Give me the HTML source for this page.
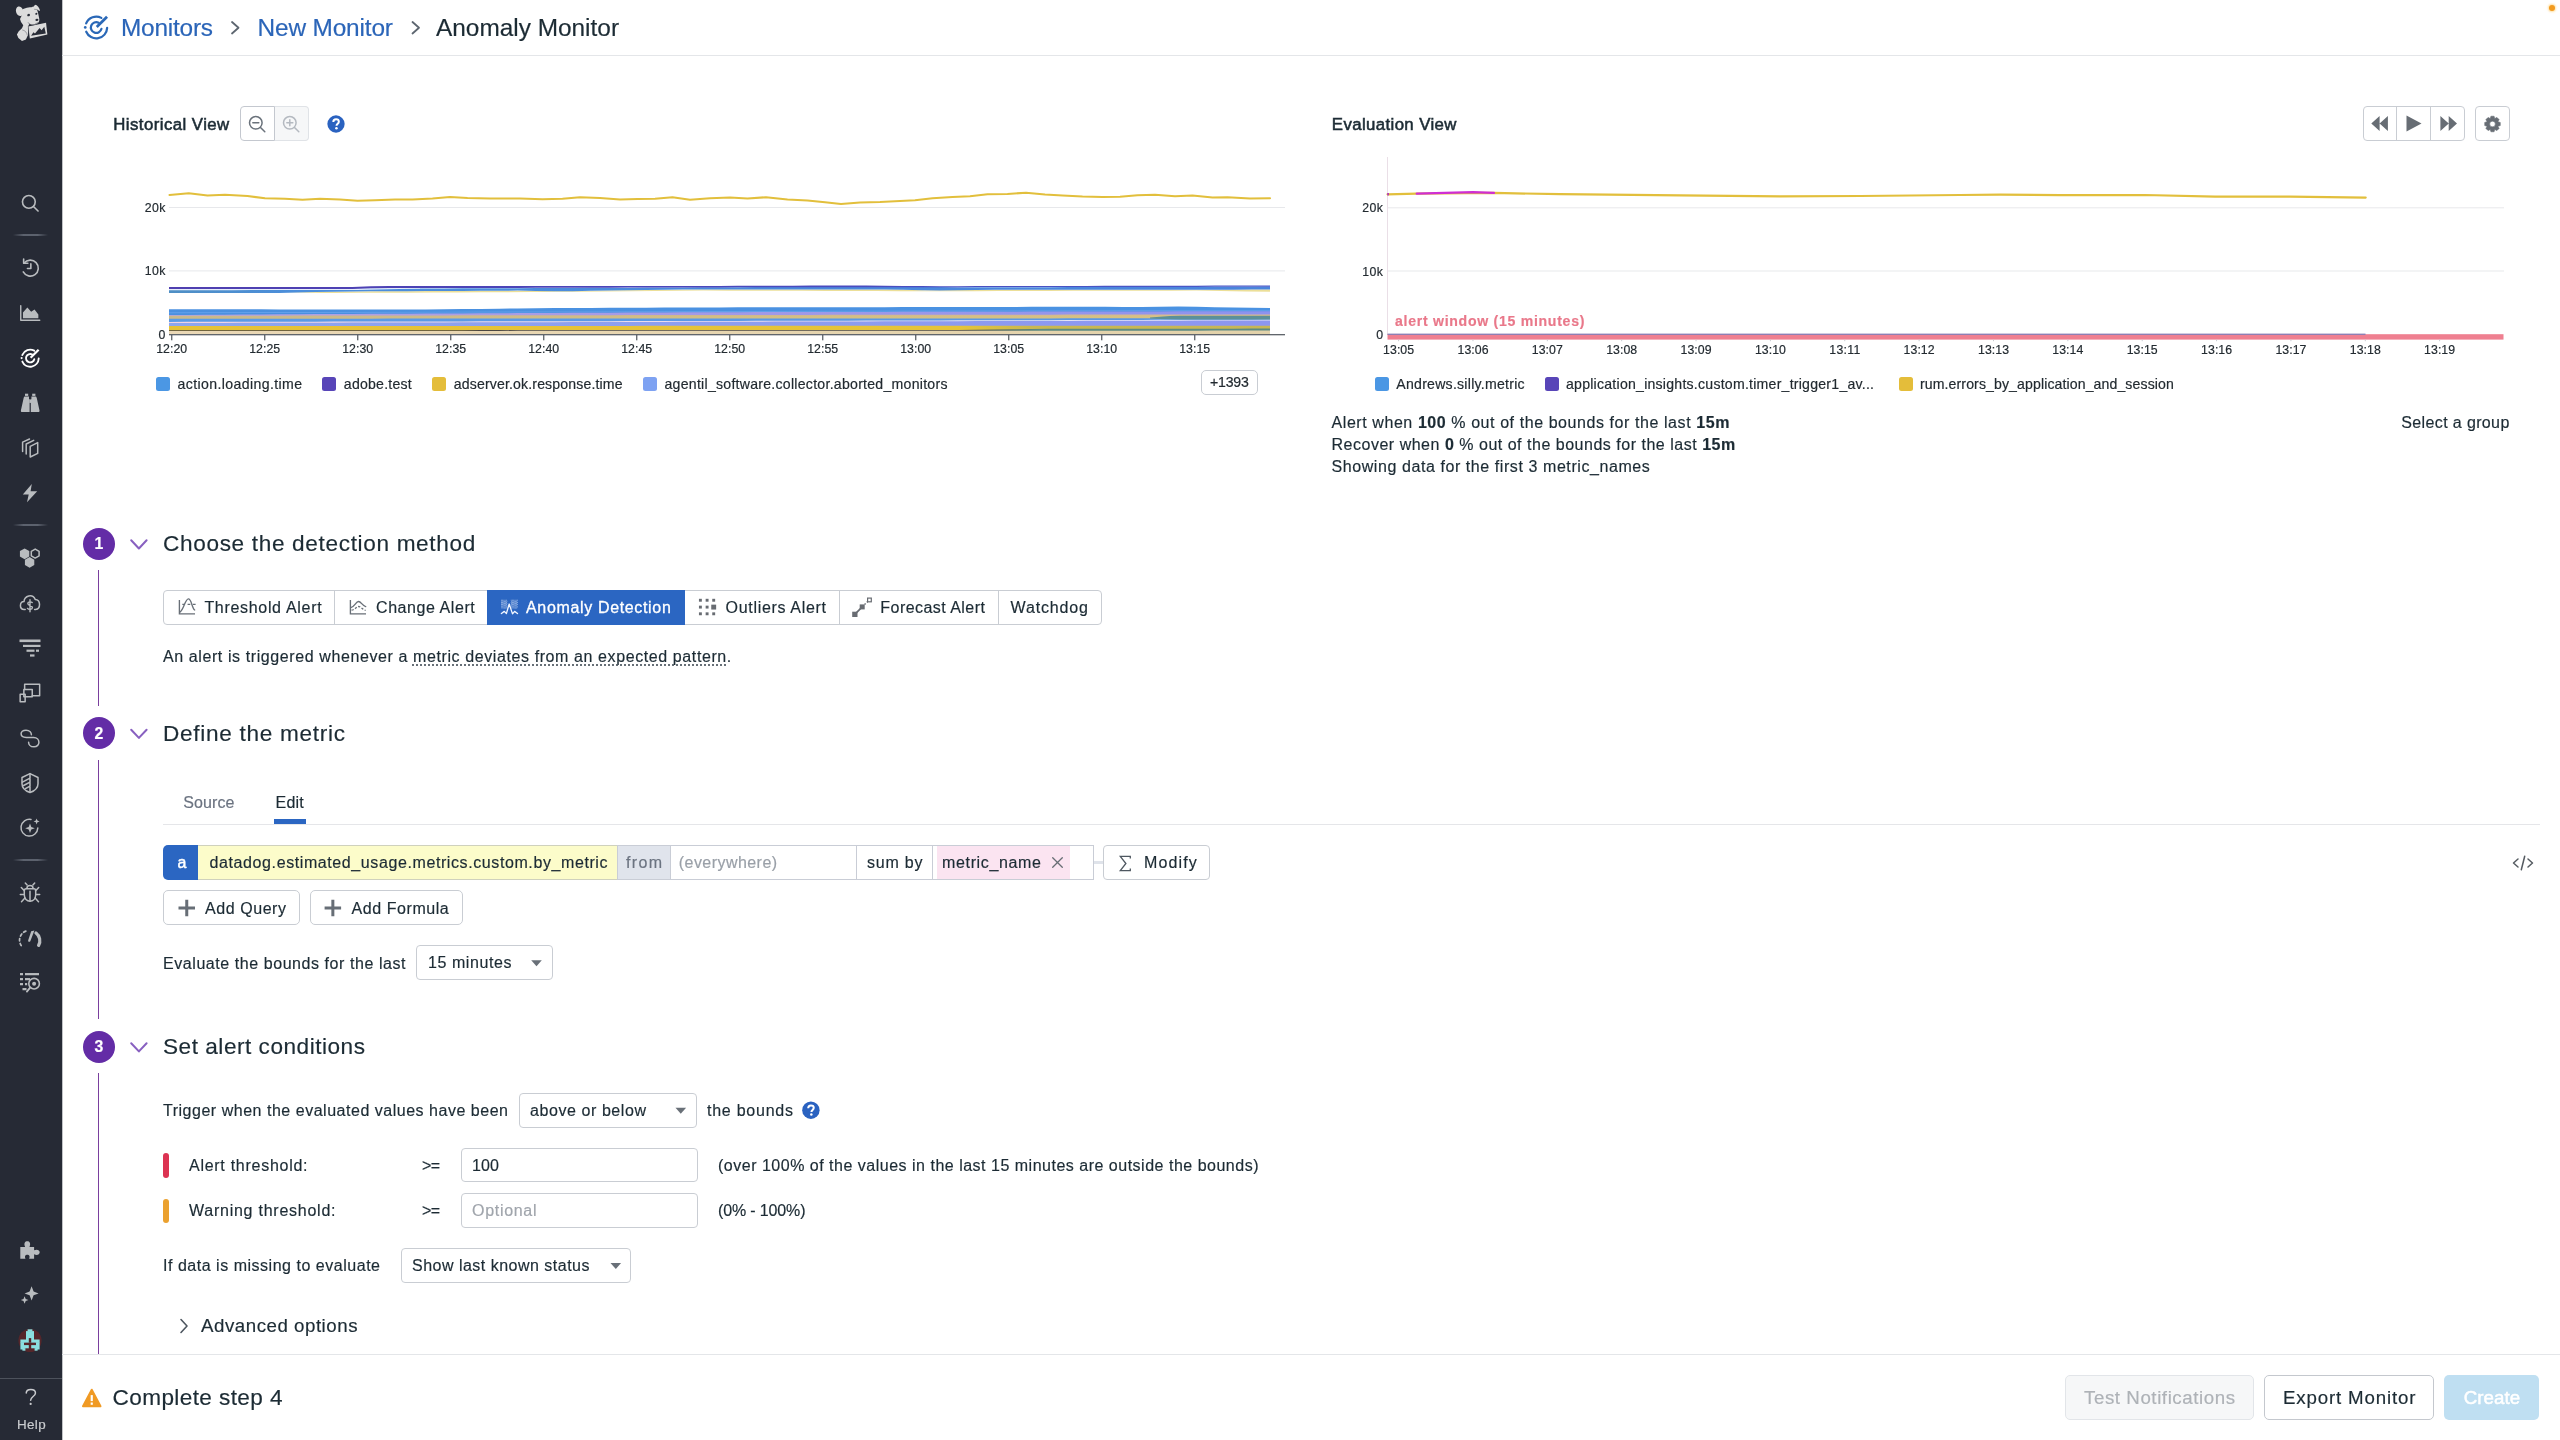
<!DOCTYPE html>
<html lang="en"><head><meta charset="utf-8"><title>Anomaly Monitor</title>
<style>

html,body{margin:0;padding:0;}
body{width:2560px;height:1440px;overflow:hidden;background:#fff;position:relative;font-family:"Liberation Sans",sans-serif;color:#1c2b34;}
#root{position:absolute;left:0;top:0;width:2560px;height:1440px;will-change:transform;}
.t{position:absolute;white-space:pre;line-height:1;-webkit-text-stroke:0.18px currentColor;}
.b{position:absolute;box-sizing:border-box;}
svg{position:absolute;left:0;top:0;overflow:visible;}

</style></head>
<body>
<div id="root">
<div class="b" style="left:0px;top:0px;width:62px;height:1440px;background:#262a35;"></div>
<div class="b" style="left:62px;top:0px;width:1px;height:1440px;background:#8e9197;opacity:.55;"></div>
<svg style="left:15px;top:4px" width="33" height="38" viewBox="300 80 660 760"><g fill="#dcdcdc"><ellipse cx="392" cy="226" rx="72" ry="98" transform="rotate(-16 392 226)"/><path d="M450 185 C520 140 620 152 676 128 L700 95 C745 98 792 160 802 218 L762 206 L738 186 C762 250 776 320 786 382 C792 432 770 456 746 470 C700 506 640 502 586 478 L566 522 L562 700 L548 724 L518 792 L440 818 L368 760 L338 690 L375 625 L440 565 L465 505 L420 440 L400 380 L430 320 Z"/><path d="M563 528 L921 453 L947 691 L597 768 Z"/></g><g fill="#282c37"><ellipse cx="572" cy="302" rx="29" ry="23" transform="rotate(-25 572 302)"/><ellipse cx="727" cy="276" rx="22" ry="19" transform="rotate(-25 727 276)"/><ellipse cx="738" cy="397" rx="31" ry="22" transform="rotate(-10 738 397)"/><path d="M622 716 L668 645 L700 668 L792 562 L832 605 L886 535 L916 672 Z"/></g><g fill="none" stroke="#282c37" stroke-linecap="round"><path d="M566 455 C590 500 650 506 690 490 C716 480 736 470 746 452" stroke-width="10"/><path d="M452 600 C500 608 536 648 546 700" stroke-width="7"/><path d="M567 532 L574 700" stroke-width="9"/><path d="M690 186 L736 192" stroke-width="7"/><path d="M600 552 L900 488 L920 672 L616 738 Z" stroke-width="6" stroke-opacity=".0"/></g></svg>
<svg style="left:21px;top:194px" width="19" height="19" viewBox="0 0 19 19"><g transform="translate(0.450 0.450) scale(1.00000 1.00000) translate(0.000 0.000)"><g fill="none" stroke="#b9bcbf" stroke-width="1.6" stroke-linecap="round" stroke-linejoin="round"><circle cx="7.4" cy="7.4" r="6.4"/><path d="M12 12 L16.6 16.6"/></g></g></svg>
<div class="b" style="left:13px;top:233.8px;width:35px;height:2px;background:linear-gradient(90deg,rgba(90,96,108,0),rgba(98,104,116,.9) 30%,rgba(98,104,116,.9) 70%,rgba(90,96,108,0));"></div>
<svg style="left:21px;top:258px" width="20" height="21" viewBox="0 0 20 21"><g transform="translate(0.050 0.300) scale(1.00000 1.00000) translate(0.000 0.000)"><g fill="none" stroke="#b9bcbf" stroke-width="1.6" stroke-linecap="round" stroke-linejoin="round"><path d="M3 4.8 A8 8 0 1 1 2.2 13.6"/><path d="M2.6 0.8 V5 H6.8"/><path d="M9.8 5.6 V10.2 H6.4"/></g></g></svg>
<svg style="left:19px;top:305px" width="23" height="17" viewBox="0 0 23 17"><g transform="translate(0.750 0.000) scale(1.00000 1.00000) translate(0.000 0.000)"><path d="M1 0.6 V15.2 H20" fill="none" stroke="#b9bcbf" stroke-width="1.4" stroke-linecap="round" stroke-linejoin="round"/><path d="M3.2 13.2 V7.6 L7.6 2.6 L11.4 6.8 L14.8 4.4 L18.6 9.6 V13.2 Z" fill="#b9bcbf"/></g></svg>
<svg style="left:19px;top:347px" width="24" height="24" viewBox="0 0 24 24"><g transform="translate(0.280 0.280) scale(0.78000 0.78000) translate(14.000 14.000)"><g fill="none" stroke="#ffffff" stroke-width="2.4" stroke-linecap="round"><path d="M10.89 0.38 A10.9 10.9 0 0 1 -10.03 4.26"/><path d="M-10.11 -4.08 A10.9 10.9 0 0 1 5.12 -9.62"/><path d="M5.24 1.31 A5.4 5.4 0 1 1 2.37 -4.85"/></g><path d="M0.5 -0.5 L10.8 -10.8" stroke="#ffffff" stroke-width="2.9" fill="none" stroke-linecap="butt"/><circle cx="-11" cy="-0.1" r="1.35" fill="#ffffff"/></g></svg>
<svg style="left:20px;top:393px" width="21" height="21" viewBox="0 0 21 21"><g transform="translate(0.700 0.700) scale(1.00000 1.00000) translate(0.000 0.000)"><g fill="#b9bcbf"><rect x="4.3" y="0" width="3.2" height="2.2"/><rect x="11.5" y="0" width="3.2" height="2.2"/><path d="M3.7 2.9 H8.3 V5.6 H8.9 V18.4 H1.2 C0.4 18.4 0 17.7 0.2 16.9 L3 4 Z"/><path d="M15.3 2.9 H10.7 V5.6 H10.1 V18.4 H17.8 C18.6 18.4 19 17.7 18.8 16.9 L16 4 Z"/><rect x="8.6" y="5.8" width="1.8" height="3.4"/></g></g></svg>
<svg style="left:21px;top:438px" width="19" height="21" viewBox="0 0 19 21"><g transform="translate(0.900 0.700) scale(1.00000 1.00000) translate(0.000 0.000)"><g fill="none" stroke="#b9bcbf" stroke-width="1.5" stroke-linecap="round" stroke-linejoin="round" stroke-linejoin="miter"><path d="M8.3 7.6 L15.8 3.9 V14.6 L8.3 18.3 Z"/><path d="M4.3 15.2 V5.3 L11.8 1.6"/><path d="M0.7 12.8 V3.4 L7.6 0.3"/></g></g></svg>
<svg style="left:22px;top:484px" width="17" height="20" viewBox="0 0 17 20"><g transform="translate(0.800 0.100) scale(1.00000 1.00000) translate(0.000 0.000)"><path d="M9 0 L0 10.4 H5.9 L4.2 18.2 L14.4 7.1 H7.8 Z" fill="#b9bcbf"/></g></svg>
<div class="b" style="left:13px;top:524px;width:35px;height:2px;background:linear-gradient(90deg,rgba(90,96,108,0),rgba(98,104,116,.9) 30%,rgba(98,104,116,.9) 70%,rgba(90,96,108,0));"></div>
<svg style="left:19px;top:548px" width="23" height="21" viewBox="0 0 23 21"><g transform="translate(0.000 0.000) scale(1.00000 1.00000) translate(0.000 0.000)"><polygon points="10.28,8.50 5.60,11.20 0.92,8.50 0.92,3.10 5.60,0.40 10.28,3.10" fill="#b9bcbf"/><polygon points="15.28,17.10 10.60,19.80 5.92,17.10 5.92,11.70 10.60,9.00 15.28,11.70" fill="#b9bcbf"/><polygon points="20.10,7.85 16.20,10.10 12.30,7.85 12.30,3.35 16.20,1.10 20.10,3.35" fill="none" stroke="#b9bcbf" stroke-width="1.5" stroke-linecap="round" stroke-linejoin="round"/></g></svg>
<svg style="left:19px;top:593px" width="23" height="21" viewBox="0 0 23 21"><g transform="translate(0.000 0.000) scale(1.00000 1.00000) translate(0.000 0.000)"><g fill="none" stroke="#b9bcbf" stroke-width="1.5" stroke-linecap="round" stroke-linejoin="round"><path d="M6.2 16.6 H5.2 C-0.2 16 0.6 8.8 5 8.6 C5.4 2.6 13.6 0.4 16.2 6.4 C21.8 6.6 22 15.8 16.6 16.6 H15.6"/></g><path d="M13.2 9.6 C12 8.4 8.8 8.6 8.8 10.6 C8.8 13 13.4 12 13.4 14.6 C13.4 16.8 9.8 16.9 8.5 15.4 M11 6.8 V18.8" fill="none" stroke="#b9bcbf" stroke-width="1.4" stroke-linecap="round" stroke-linejoin="round"/></g></svg>
<svg style="left:19px;top:639px" width="23" height="19" viewBox="0 0 23 19"><g transform="translate(0.000 0.000) scale(1.00000 1.00000) translate(0.000 0.000)"><g fill="#b9bcbf"><rect x="0.5" y="0.5" width="21" height="2.6"/><rect x="4" y="5.8" width="17.5" height="2.2"/><rect x="7.5" y="10.6" width="8" height="2.2"/><rect x="17" y="10.6" width="3" height="2.2"/><rect x="11" y="15.4" width="4.5" height="2.2"/></g></g></svg>
<svg style="left:19px;top:683px" width="23" height="21" viewBox="0 0 23 21"><g transform="translate(0.250 0.250) scale(1.00000 1.00000) translate(0.000 0.000)"><g fill="none" stroke="#b9bcbf" stroke-width="1.5" stroke-linecap="round" stroke-linejoin="round"><path d="M5.4 6.2 V0.9 H20.4 V12.4 H13"/><rect x="4.6" y="6.2" width="8.4" height="7.2"/><rect x="0.9" y="11" width="5" height="7.6"/></g></g></svg>
<svg style="left:19px;top:728px" width="23" height="22" viewBox="0 0 23 22"><g transform="translate(0.500 0.750) scale(1.00000 1.00000) translate(0.000 0.000)"><path d="M12 8.2 H6.3 C-0.6 8.2 -0.6 0.9 6 0.9 C10 0.9 11.4 3.6 11.4 5.6 M8 8.2 H13.7 C20.6 8.2 20.6 17.6 14 17.6 C10 17.6 8.6 14.9 8.6 12.9" fill="none" stroke="#b9bcbf" stroke-width="1.5" stroke-linecap="round" stroke-linejoin="round" transform="translate(0.5,0.5)"/></g></svg>
<svg style="left:21px;top:772px" width="19" height="23" viewBox="0 0 19 23"><g transform="translate(0.000 0.700) scale(1.00000 1.00000) translate(0.000 0.000)"><g fill="none" stroke="#b9bcbf" stroke-width="1.5" stroke-linecap="round" stroke-linejoin="round"><path d="M9 0.9 L17 4.8 V11 C17 15.4 13 18.4 9 19.8 C5 18.4 1 15.4 1 11 V4.8 Z"/><path d="M9 1 V19.6 M9 9.4 L2.6 12.8 M9 13.4 L4.4 16 M9 5.4 L1.4 9.4"/></g></g></svg>
<svg style="left:20px;top:818px" width="21" height="21" viewBox="0 0 21 21"><g transform="translate(0.000 0.000) scale(1.00000 1.00000) translate(0.000 0.000)"><path d="M17.8 10 A8.4 8.4 0 1 1 11 1.4" fill="none" stroke="#b9bcbf" stroke-width="1.5" stroke-linecap="round" stroke-linejoin="round"/><path d="M10 5.4 L11.3 9 L14.8 10.2 L11.3 11.4 L10 15 L8.7 11.4 L5.2 10.2 L8.7 9 Z" fill="#b9bcbf"/><path d="M16.6 0.4 L17.4 2.6 L19.6 3.4 L17.4 4.2 L16.6 6.4 L15.8 4.2 L13.6 3.4 L15.8 2.6 Z" fill="#b9bcbf"/></g></svg>
<div class="b" style="left:13px;top:859px;width:35px;height:2px;background:linear-gradient(90deg,rgba(90,96,108,0),rgba(98,104,116,.9) 30%,rgba(98,104,116,.9) 70%,rgba(90,96,108,0));"></div>
<svg style="left:19px;top:882px" width="23" height="22" viewBox="0 0 23 22"><g transform="translate(0.500 0.250) scale(1.00000 1.00000) translate(0.000 0.000)"><g fill="none" stroke="#b9bcbf" stroke-width="1.5" stroke-linecap="round" stroke-linejoin="round"><path d="M6.6 6.4 H14.4 C15.6 6.4 16.2 7.4 16.2 8.6 V12.6 C16.2 16.6 13.6 19 10.5 19 C7.4 19 4.8 16.6 4.8 12.6 V8.6 C4.8 7.4 5.4 6.4 6.6 6.4 Z"/><path d="M7.4 6.2 C7.4 2.4 13.6 2.4 13.6 6.2"/><path d="M10.5 9 V19 M4.8 12.2 H0.8 M16.2 12.2 H20.2 M4.9 8.6 L1.8 5.2 M16.1 8.6 L19.2 5.2 M5.4 15.8 L2 19.4 M15.6 15.8 L19 19.4 M7.6 2.8 L5.8 0.8 M13.4 2.8 L15.2 0.8"/></g></g></svg>
<svg style="left:19px;top:929px" width="23" height="19" viewBox="0 0 23 19"><g transform="translate(0.000 0.000) scale(1.00000 1.00000) translate(0.000 0.000)"><path d="M2.2 16.5 A9.6 9.6 0 0 1 9 1.6" fill="none" stroke="#b9bcbf" stroke-width="1.7" stroke-linecap="round" stroke-linejoin="round" stroke-dasharray="2.4 2.5"/><path d="M17 4 A9.6 9.6 0 0 1 19.6 16.4" fill="none" stroke="#b9bcbf" stroke-width="3.2" stroke-linecap="round" stroke-linejoin="round" stroke-linecap="butt"/><path d="M12.2 2.2 L15.4 1.4 L11.4 12 C10.8 13.6 8.6 12.6 9.2 11.2 Z" fill="#b9bcbf"/></g></svg>
<svg style="left:19px;top:972px" width="23" height="22" viewBox="0 0 23 22"><g transform="translate(0.500 0.250) scale(1.00000 1.00000) translate(0.000 0.000)"><g fill="#b9bcbf"><rect x="0.5" y="0.8" width="3" height="2.2"/><rect x="5.5" y="0.8" width="14" height="2.2"/><rect x="0.5" y="5.8" width="3" height="2.2"/><rect x="5.5" y="5.8" width="5" height="2.2"/><rect x="0.5" y="10.8" width="3" height="2.2"/><rect x="5.5" y="10.8" width="2.2" height="2.2"/><rect x="3" y="15.8" width="4" height="2.2"/></g><circle cx="14.6" cy="11.4" r="5.3" fill="none" stroke="#b9bcbf" stroke-width="1.6" stroke-linecap="round" stroke-linejoin="round"/><circle cx="14.6" cy="11.4" r="2" fill="#b9bcbf"/><path d="M10.6 15.4 L7.4 19.4" fill="none" stroke="#b9bcbf" stroke-width="1.8" stroke-linecap="round" stroke-linejoin="round"/></g></svg>
<svg style="left:19px;top:1240px" width="23" height="21" viewBox="0 0 23 21"><g transform="translate(0.500 0.750) scale(1.00000 1.00000) translate(0.000 0.000)"><path d="M0.8 6.2 H5.6 C4 2.6 5.6 0.6 7.8 0.6 C10 0.6 11.6 2.6 10 6.2 H14.6 V9.6 C17.4 8.2 20.2 9.2 20.2 11.6 C20.2 14 17.4 15 14.6 13.6 V18 H9.6 C10.8 15.4 9.6 14 7.8 14 C6 14 4.8 15.4 6 18 H0.8 Z" fill="#b9bcbf"/></g></svg>
<svg style="left:21px;top:1286px" width="19" height="19" viewBox="0 0 19 19"><g transform="translate(0.000 0.000) scale(1.00000 1.00000) translate(0.000 0.000)"><path d="M10.6 0.2 L12.6 5.6 L17.6 7.4 L12.6 9.2 L10.6 14.6 L8.6 9.2 L3.6 7.4 L8.6 5.6 Z" fill="#b9bcbf"/><path d="M3.6 10.2 L4.7 13 L7.4 14 L4.7 15 L3.6 17.8 L2.5 15 L-0.2 14 L2.5 13 Z" fill="#b9bcbf"/></g></svg>
<svg style="left:18px;top:1328px" width="25" height="26" viewBox="0 0 25 26"><g transform="translate(0.000 0.500) scale(1.00000 1.00000) translate(0.000 0.000)"><circle cx="12" cy="12" r="11.6" fill="#55262a"/><g fill="#8adfe0"><rect x="9.6" y="0.8" width="4.8" height="2.2"/><rect x="8" y="2.6" width="8" height="9"/><rect x="2.4" y="11" width="19.2" height="3.4"/><rect x="2.4" y="14" width="3.6" height="7"/><rect x="18" y="14" width="3.6" height="7"/><rect x="5.6" y="16.6" width="5.2" height="3.2"/><rect x="13.2" y="16.6" width="5.2" height="3.2"/><rect x="4.4" y="19.6" width="3" height="2.6"/><rect x="16.6" y="19.6" width="3" height="2.6"/></g><g fill="#55262a"><rect x="10.8" y="9.6" width="2.4" height="4.6"/><rect x="6.2" y="14.2" width="11.6" height="1.3"/></g></g></svg>
<div class="b" style="left:0px;top:1378px;width:62px;height:1px;background:#4d525c;"></div>
<svg style="left:25px;top:1388px" width="13" height="19" viewBox="0 0 13 19"><g transform="translate(0.250 0.500) scale(1.00000 1.00000) translate(0.000 0.000)"><path d="M1 4.6 C1 -0.4 10.2 -0.2 10.2 4.4 C10.2 8 5.4 8 5.4 11.8" fill="none" stroke="#c9cbce" stroke-width="1.5" stroke-linecap="round" stroke-linejoin="round"/><circle cx="5.4" cy="15.4" r="1.1" fill="#c9cbce"/></g></svg>
<span class="t" style="left:16.9px;top:1417.6px;font-size:13.4px;color:#c9cbce;letter-spacing:0.384px;">Help</span>
<div class="b" style="left:62px;top:55px;width:2498px;height:1px;background:#e4e6e9;"></div>
<svg style="left:82px;top:13px" width="30" height="30" viewBox="0 0 30 30"><g transform="translate(0.250 0.500) scale(1.00000 1.00000) translate(14.000 14.000)"><g fill="none" stroke="#2a68b7" stroke-width="2.2" stroke-linecap="round"><path d="M10.89 0.38 A10.9 10.9 0 0 1 -10.03 4.26"/><path d="M-10.11 -4.08 A10.9 10.9 0 0 1 5.12 -9.62"/><path d="M5.24 1.31 A5.4 5.4 0 1 1 2.37 -4.85"/></g><path d="M0.5 -0.5 L10.8 -10.8" stroke="#2a68b7" stroke-width="2.7" fill="none" stroke-linecap="butt"/><circle cx="-11" cy="-0.1" r="1.35" fill="#2a68b7"/></g></svg>
<span class="t" style="left:121.0px;top:16.2px;font-size:24.4px;color:#2b65b8;letter-spacing:-0.219px;">Monitors</span>
<svg style="left:231px;top:21px" width="10" height="15" viewBox="0 0 10 15"><g transform="translate(0.000 0.000) scale(1.00000 1.00000) translate(0.000 0.000)"><path d="M1 1 L7.5 6.75 L1 12.5" fill="none" stroke="#5d6670" stroke-width="1.8" stroke-linecap="round" stroke-linejoin="round"/></g></svg>
<span class="t" style="left:257.5px;top:16.2px;font-size:24.4px;color:#2b65b8;letter-spacing:-0.141px;">New Monitor</span>
<svg style="left:411px;top:21px" width="10" height="15" viewBox="0 0 10 15"><g transform="translate(0.500 0.000) scale(1.00000 1.00000) translate(0.000 0.000)"><path d="M1 1 L7.5 6.75 L1 12.5" fill="none" stroke="#5d6670" stroke-width="1.8" stroke-linecap="round" stroke-linejoin="round"/></g></svg>
<span class="t" style="left:436.0px;top:16.2px;font-size:24.4px;color:#1c2b34;">Anomaly Monitor</span>
<div class="b" style="left:2549px;top:5px;width:6.2px;height:6.2px;border-radius:50%;background:#f29a1f;box-shadow:0 0 2px 1px rgba(255,200,90,.55);"></div>
<span class="t" style="left:113.3px;top:116.7px;font-size:16.8px;color:#1c2b34;letter-spacing:0.440px;-webkit-text-stroke:0.55px #1c2b34;">Historical View</span>
<div class="b" style="left:240px;top:106px;width:35px;height:35px;background:#fff;border:1px solid #c4c8cf;border-radius:4px 0 0 4px;"></div>
<div class="b" style="left:274px;top:106px;width:35px;height:35px;background:#f6f7f8;border:1px solid #e0e3e7;border-radius:0 4px 4px 0;border-left:1px solid #c4c8cf;"></div>
<svg style="left:248px;top:115px" width="20" height="20" viewBox="0 0 20 20"><g transform="translate(0.500 0.500) scale(1.00000 1.00000) translate(0.000 0.000)"><g fill="none" stroke="#6a727b" stroke-width="1.5" stroke-linecap="round"><circle cx="7.3" cy="7.3" r="6.3"/><path d="M12 12 L16.3 16.3"/><path d="M4.3 7.3 H10.3"/></g></g></svg>
<svg style="left:282px;top:115px" width="20" height="20" viewBox="0 0 20 20"><g transform="translate(0.500 0.500) scale(1.00000 1.00000) translate(0.000 0.000)"><g fill="none" stroke="#b4b9c0" stroke-width="1.5" stroke-linecap="round"><circle cx="7.3" cy="7.3" r="6.3"/><path d="M12 12 L16.3 16.3"/><path d="M4.3 7.3 H10.3"/><path d="M7.3 4.3 V10.3"/></g></g></svg>
<svg style="left:327px;top:115px" width="19" height="19" viewBox="0 0 19 19"><g transform="translate(0.350 0.350) scale(0.86500 0.86500) translate(-0.000 -0.000)"><circle cx="10" cy="10" r="10" fill="#2a62c0"/><path d="M6.9 7.7 C6.9 5.6 8.3 4.5 10.1 4.5 C12 4.5 13.3 5.6 13.3 7.3 C13.3 9.6 10.6 9.7 10.6 12" fill="none" stroke="#fff" stroke-width="2.3" stroke-linecap="butt"/><circle cx="10.5" cy="15" r="1.45" fill="#fff"/></g></svg>
<svg width="2560" height="1440" viewBox="0 0 2560 1440"><rect x="169" y="207.0" width="1116" height="1" fill="#e7e8eb"/><rect x="169" y="270.4" width="1116" height="1" fill="#e7e8eb"/><defs><linearGradient id="gb" gradientUnits="userSpaceOnUse" x1="169" y1="0" x2="1270" y2="0"><stop offset="0.000" stop-color="#4f8fc4"/><stop offset="0.119" stop-color="#4b8edc"/><stop offset="1.000" stop-color="#4a84dc"/></linearGradient><linearGradient id="gp" gradientUnits="userSpaceOnUse" x1="169" y1="0" x2="1270" y2="0"><stop offset="0.000" stop-color="#4f3fb0"/><stop offset="0.482" stop-color="#4a46bc"/><stop offset="1.000" stop-color="#4858c8"/></linearGradient><linearGradient id="g1" gradientUnits="userSpaceOnUse" x1="169" y1="0" x2="1270" y2="0"><stop offset="0.000" stop-color="#4a90e0"/><stop offset="1.000" stop-color="#4a92e2"/></linearGradient><linearGradient id="g2" gradientUnits="userSpaceOnUse" x1="169" y1="0" x2="1270" y2="0"><stop offset="0.000" stop-color="#b4a2e2"/><stop offset="0.482" stop-color="#a49ae6"/><stop offset="1.000" stop-color="#8c92ee"/></linearGradient><linearGradient id="g3" gradientUnits="userSpaceOnUse" x1="169" y1="0" x2="1270" y2="0"><stop offset="0.000" stop-color="#c9b98a"/><stop offset="0.482" stop-color="#cfb98c"/><stop offset="1.000" stop-color="#d9b896"/></linearGradient><linearGradient id="g3b" gradientUnits="userSpaceOnUse" x1="169" y1="0" x2="1270" y2="0"><stop offset="0.000" stop-color="#c9b98a"/><stop offset="0.482" stop-color="#d2be84"/><stop offset="1.000" stop-color="#d6c282"/></linearGradient><linearGradient id="g4" gradientUnits="userSpaceOnUse" x1="169" y1="0" x2="1270" y2="0"><stop offset="0.000" stop-color="#5a9be6"/><stop offset="1.000" stop-color="#5a98e4"/></linearGradient><linearGradient id="g5" gradientUnits="userSpaceOnUse" x1="169" y1="0" x2="1270" y2="0"><stop offset="0.000" stop-color="#efd3e4"/><stop offset="1.000" stop-color="#e4e8f6"/></linearGradient><linearGradient id="g6" gradientUnits="userSpaceOnUse" x1="169" y1="0" x2="1270" y2="0"><stop offset="0.000" stop-color="#8ea6ee"/><stop offset="1.000" stop-color="#8c96f0"/></linearGradient><linearGradient id="g7" gradientUnits="userSpaceOnUse" x1="169" y1="0" x2="1270" y2="0"><stop offset="0.000" stop-color="#e6c236"/><stop offset="0.718" stop-color="#e6c438"/><stop offset="0.782" stop-color="#c9b850"/><stop offset="1.000" stop-color="#c6b656"/></linearGradient><linearGradient id="g8" gradientUnits="userSpaceOnUse" x1="169" y1="0" x2="1270" y2="0"><stop offset="0.000" stop-color="#4a4540"/><stop offset="0.718" stop-color="#4d4a44"/><stop offset="0.791" stop-color="#5b8a80"/><stop offset="1.000" stop-color="#5b8a82"/></linearGradient><linearGradient id="g9" gradientUnits="userSpaceOnUse" x1="169" y1="0" x2="1270" y2="0"><stop offset="0.000" stop-color="#ead8b6"/><stop offset="1.000" stop-color="#e2d2aa"/></linearGradient></defs><polygon points="285.0,292.88 309.6,292.26 334.2,291.64 358.9,291.41 383.5,291.28 408.1,291.16 432.8,291.04 457.4,290.91 482.0,290.79 506.6,290.67 531.2,290.82 555.9,291.32 580.5,290.99 605.1,290.54 629.8,290.24 654.4,289.95 679.0,289.65 703.6,289.40 728.2,289.43 752.9,289.45 777.5,289.48 802.1,289.50 826.8,289.53 851.4,289.55 876.0,289.58 900.6,289.62 925.2,290.44 949.9,290.37 974.5,290.09 999.1,289.81 1023.8,289.78 1048.4,289.76 1073.0,289.75 1097.6,289.73 1122.2,289.71 1146.9,289.69 1171.5,289.67 1196.1,289.65 1220.8,289.64 1245.4,289.62 1270.0,289.60 1270.0,291.80 1245.4,291.38 1220.8,290.96 1196.1,290.61 1171.5,290.66 1146.9,290.71 1122.2,290.76 1097.6,290.80 1073.0,290.85 1048.4,290.90 1023.8,290.95 999.1,291.00 974.5,291.15 949.9,291.29 925.2,291.36 900.6,291.16 876.0,290.99 851.4,290.94 826.8,290.88 802.1,290.83 777.5,290.77 752.9,290.72 728.2,290.66 703.6,290.61 679.0,290.79 654.4,291.01 629.8,291.22 605.1,291.44 580.5,291.66 555.9,291.88 531.2,292.10 506.6,292.25 482.0,292.35 457.4,292.44 432.8,292.54 408.1,292.64 383.5,292.73 358.9,292.83 334.2,292.91 309.6,292.96 285.0,293.00" fill="#ecdf98"/><polygon points="169.0,290.00 187.3,290.02 205.7,290.03 224.1,290.05 242.4,290.07 260.8,290.08 279.1,290.10 297.4,289.69 315.8,289.26 334.1,288.84 352.5,288.67 370.9,288.61 389.2,288.56 407.6,288.51 425.9,288.46 444.2,288.41 462.6,288.36 480.9,288.31 499.3,288.26 517.6,288.21 536.0,288.12 554.4,288.03 572.7,287.94 591.0,287.84 609.4,287.75 627.8,287.66 646.1,287.57 664.5,287.48 682.8,287.39 701.1,287.29 719.5,287.21 737.9,287.13 756.2,287.05 774.5,286.97 792.9,286.89 811.2,286.81 829.6,286.73 848.0,286.65 866.3,286.54 884.6,286.35 903.0,286.26 921.4,286.63 939.7,286.99 958.0,287.36 976.4,287.36 994.8,287.31 1013.1,287.26 1031.5,287.22 1049.8,287.17 1068.2,287.12 1086.5,287.07 1104.8,287.03 1123.2,286.98 1141.5,286.93 1159.9,286.88 1178.2,286.84 1196.6,286.79 1215.0,286.74 1233.3,286.69 1251.7,286.65 1270.0,286.60 1270.0,289.60 1251.7,289.61 1233.3,289.63 1215.0,289.64 1196.6,289.65 1178.2,289.67 1159.9,289.68 1141.5,289.70 1123.2,289.71 1104.8,289.72 1086.5,289.74 1068.2,289.75 1049.8,289.76 1031.5,289.78 1013.1,289.79 994.8,289.86 976.4,290.07 958.0,290.28 939.7,290.49 921.4,290.31 903.0,289.70 884.6,289.58 866.3,289.57 848.0,289.55 829.6,289.53 811.2,289.51 792.9,289.49 774.5,289.47 756.2,289.46 737.9,289.44 719.5,289.42 701.1,289.40 682.8,289.61 664.5,289.83 646.1,290.05 627.8,290.27 609.4,290.49 591.0,290.78 572.7,291.15 554.4,291.29 536.0,290.92 517.6,290.61 499.3,290.70 480.9,290.80 462.6,290.89 444.2,290.98 425.9,291.07 407.6,291.16 389.2,291.25 370.9,291.35 352.5,291.44 334.1,291.65 315.8,292.11 297.4,292.56 279.1,293.00 260.8,293.00 242.4,293.00 224.1,293.00 205.7,293.00 187.3,293.00 169.0,293.00" fill="url(#gb)"/><polygon points="169.0,288.80 189.9,288.73 210.8,288.67 231.8,288.60 252.7,288.53 273.6,288.47 294.5,288.40 315.4,288.33 336.3,288.27 357.2,288.20 378.2,288.13 399.1,288.07 420.0,288.00 420.0,288.40 399.1,288.96 378.2,289.52 357.2,290.00 336.3,290.02 315.4,290.05 294.5,290.07 273.6,290.09 252.7,290.11 231.8,290.13 210.8,290.16 189.9,290.18 169.0,290.20" fill="#e6eefc"/><polygon points="169.0,286.90 187.3,286.91 205.7,286.92 224.1,286.93 242.4,286.94 260.8,286.95 279.1,286.96 297.4,286.97 315.8,286.98 334.1,286.99 352.5,287.00 370.9,286.13 389.2,285.90 407.6,285.91 425.9,285.92 444.2,285.92 462.6,285.93 480.9,285.93 499.3,285.94 517.6,285.94 536.0,285.95 554.4,285.96 572.7,285.96 591.0,285.97 609.4,285.97 627.8,285.98 646.1,285.98 664.5,285.99 682.8,285.99 701.1,286.00 719.5,285.93 737.9,285.86 756.2,285.79 774.5,285.72 792.9,285.65 811.2,285.58 829.6,285.51 848.0,285.45 866.3,285.47 884.6,285.68 903.0,285.89 921.4,286.10 939.7,286.18 958.0,286.14 976.4,286.10 994.8,286.07 1013.1,286.03 1031.5,285.99 1049.8,285.95 1068.2,285.92 1086.5,285.88 1104.8,285.84 1123.2,285.80 1141.5,285.76 1159.9,285.73 1178.2,285.69 1196.6,285.65 1215.0,285.61 1233.3,285.58 1251.7,285.54 1270.0,285.50 1270.0,286.80 1251.7,286.82 1233.3,286.84 1215.0,286.86 1196.6,286.88 1178.2,286.90 1159.9,286.92 1141.5,286.94 1123.2,286.95 1104.8,286.97 1086.5,286.99 1068.2,287.01 1049.8,287.03 1031.5,287.05 1013.1,287.07 994.8,287.09 976.4,287.11 958.0,287.13 939.7,287.15 921.4,287.17 903.0,287.19 884.6,287.21 866.3,287.22 848.0,287.24 829.6,287.26 811.2,287.28 792.9,287.30 774.5,287.32 756.2,287.34 737.9,287.36 719.5,287.38 701.1,287.40 682.8,287.45 664.5,287.50 646.1,287.55 627.8,287.60 609.4,287.65 591.0,287.70 572.7,287.75 554.4,287.80 536.0,287.86 517.6,287.90 499.3,287.91 480.9,287.93 462.6,287.94 444.2,287.95 425.9,287.96 407.6,287.98 389.2,287.99 370.9,288.21 352.5,289.00 334.1,289.00 315.8,289.00 297.4,289.00 279.1,289.00 260.8,289.00 242.4,289.00 224.1,289.00 205.7,289.00 187.3,289.00 169.0,289.00" fill="url(#gp)"/><polygon points="169.0,309.20 187.3,309.23 205.7,309.26 224.1,309.29 242.4,309.32 260.8,309.35 279.1,309.38 297.4,309.40 315.8,309.43 334.1,309.46 352.5,309.49 370.9,309.52 389.2,309.55 407.6,309.58 425.9,309.53 444.2,309.32 462.6,309.11 480.9,308.90 499.3,308.69 517.6,308.48 536.0,308.27 554.4,308.06 572.7,307.95 591.0,307.88 609.4,307.81 627.8,307.74 646.1,307.67 664.5,307.59 682.8,307.52 701.1,307.45 719.5,307.38 737.9,307.31 756.2,307.28 774.5,307.26 792.9,307.24 811.2,307.22 829.6,307.20 848.0,307.18 866.3,307.15 884.6,307.13 903.0,307.11 921.4,307.09 939.7,307.07 958.0,307.05 976.4,307.03 994.8,307.01 1013.1,306.91 1031.5,306.79 1049.8,306.67 1068.2,306.65 1086.5,306.75 1104.8,306.86 1123.2,306.96 1141.5,306.91 1159.9,306.76 1178.2,306.61 1196.6,306.86 1215.0,307.14 1233.3,307.43 1251.7,307.71 1270.0,308.00 1270.0,334.00 1251.7,334.00 1233.3,334.00 1215.0,334.00 1196.6,334.00 1178.2,334.00 1159.9,334.00 1141.5,334.00 1123.2,334.00 1104.8,334.00 1086.5,334.00 1068.2,334.00 1049.8,334.00 1031.5,334.00 1013.1,334.00 994.8,334.00 976.4,334.00 958.0,334.00 939.7,334.00 921.4,334.00 903.0,334.00 884.6,334.00 866.3,334.00 848.0,334.00 829.6,334.00 811.2,334.00 792.9,334.00 774.5,334.00 756.2,334.00 737.9,334.00 719.5,334.00 701.1,334.00 682.8,334.00 664.5,334.00 646.1,334.00 627.8,334.00 609.4,334.00 591.0,334.00 572.7,334.00 554.4,334.00 536.0,334.00 517.6,334.00 499.3,334.00 480.9,334.00 462.6,334.00 444.2,334.00 425.9,334.00 407.6,334.00 389.2,334.00 370.9,334.00 352.5,334.00 334.1,334.00 315.8,334.00 297.4,334.00 279.1,334.00 260.8,334.00 242.4,334.00 224.1,334.00 205.7,334.00 187.3,334.00 169.0,334.00" fill="url(#g1)"/><polygon points="169.0,312.20 306.6,311.93 444.2,311.65 581.9,311.38 719.5,311.10 857.1,310.82 994.8,310.55 1132.4,310.27 1270.0,310.00 1270.0,310.80 1132.4,311.10 994.8,311.40 857.1,311.70 719.5,312.00 581.9,312.30 444.2,312.60 306.6,312.90 169.0,313.20" fill="#62a0ea"/><polygon points="169.0,315.00 187.3,314.89 205.7,314.78 224.1,314.66 242.4,314.55 260.8,314.44 279.1,314.33 297.4,314.22 315.8,314.12 334.1,314.03 352.5,313.94 370.9,313.85 389.2,313.75 407.6,313.66 425.9,313.57 444.2,313.48 462.6,313.39 480.9,313.30 499.3,313.20 517.6,313.11 536.0,313.02 554.4,312.93 572.7,312.84 591.0,312.74 609.4,312.65 627.8,312.56 646.1,312.47 664.5,312.38 682.8,312.29 701.1,312.20 719.5,312.17 737.9,312.13 756.2,312.10 774.5,312.07 792.9,312.04 811.2,312.00 829.6,311.97 848.0,311.94 866.3,311.91 884.6,311.88 903.0,311.84 921.4,311.81 939.7,311.78 958.0,311.75 976.4,311.72 994.8,311.68 1013.1,311.65 1031.5,311.62 1049.8,311.59 1068.2,311.55 1086.5,311.52 1104.8,311.49 1123.2,311.46 1141.5,311.43 1159.9,311.39 1178.2,311.36 1196.6,311.33 1215.0,311.30 1233.3,311.26 1251.7,311.23 1270.0,311.20 1270.0,334.00 1251.7,334.00 1233.3,334.00 1215.0,334.00 1196.6,334.00 1178.2,334.00 1159.9,334.00 1141.5,334.00 1123.2,334.00 1104.8,334.00 1086.5,334.00 1068.2,334.00 1049.8,334.00 1031.5,334.00 1013.1,334.00 994.8,334.00 976.4,334.00 958.0,334.00 939.7,334.00 921.4,334.00 903.0,334.00 884.6,334.00 866.3,334.00 848.0,334.00 829.6,334.00 811.2,334.00 792.9,334.00 774.5,334.00 756.2,334.00 737.9,334.00 719.5,334.00 701.1,334.00 682.8,334.00 664.5,334.00 646.1,334.00 627.8,334.00 609.4,334.00 591.0,334.00 572.7,334.00 554.4,334.00 536.0,334.00 517.6,334.00 499.3,334.00 480.9,334.00 462.6,334.00 444.2,334.00 425.9,334.00 407.6,334.00 389.2,334.00 370.9,334.00 352.5,334.00 334.1,334.00 315.8,334.00 297.4,334.00 279.1,334.00 260.8,334.00 242.4,334.00 224.1,334.00 205.7,334.00 187.3,334.00 169.0,334.00" fill="url(#g2)"/><polygon points="169.0,315.80 187.3,315.77 205.7,315.74 224.1,315.72 242.4,315.69 260.8,315.66 279.1,315.63 297.4,315.61 315.8,315.58 334.1,315.55 352.5,315.52 370.9,315.50 389.2,315.47 407.6,315.44 425.9,315.41 444.2,315.39 462.6,315.36 480.9,315.33 499.3,315.30 517.6,315.27 536.0,315.25 554.4,315.22 572.7,315.19 591.0,315.16 609.4,315.14 627.8,315.11 646.1,315.08 664.5,315.05 682.8,315.03 701.1,315.00 719.5,314.98 737.9,314.96 756.2,314.94 774.5,314.92 792.9,314.90 811.2,314.88 829.6,314.86 848.0,314.84 866.3,314.82 884.6,314.81 903.0,314.79 921.4,314.77 939.7,314.75 958.0,314.73 976.4,314.71 994.8,314.69 1013.1,314.67 1031.5,314.65 1049.8,314.63 1068.2,314.61 1086.5,314.59 1104.8,314.57 1123.2,314.55 1141.5,314.54 1159.9,314.52 1178.2,314.50 1196.6,314.48 1215.0,314.46 1233.3,314.44 1251.7,314.42 1270.0,314.40 1270.0,334.00 1251.7,334.00 1233.3,334.00 1215.0,334.00 1196.6,334.00 1178.2,334.00 1159.9,334.00 1141.5,334.00 1123.2,334.00 1104.8,334.00 1086.5,334.00 1068.2,334.00 1049.8,334.00 1031.5,334.00 1013.1,334.00 994.8,334.00 976.4,334.00 958.0,334.00 939.7,334.00 921.4,334.00 903.0,334.00 884.6,334.00 866.3,334.00 848.0,334.00 829.6,334.00 811.2,334.00 792.9,334.00 774.5,334.00 756.2,334.00 737.9,334.00 719.5,334.00 701.1,334.00 682.8,334.00 664.5,334.00 646.1,334.00 627.8,334.00 609.4,334.00 591.0,334.00 572.7,334.00 554.4,334.00 536.0,334.00 517.6,334.00 499.3,334.00 480.9,334.00 462.6,334.00 444.2,334.00 425.9,334.00 407.6,334.00 389.2,334.00 370.9,334.00 352.5,334.00 334.1,334.00 315.8,334.00 297.4,334.00 279.1,334.00 260.8,334.00 242.4,334.00 224.1,334.00 205.7,334.00 187.3,334.00 169.0,334.00" fill="url(#g3)"/><polygon points="169.0,317.00 187.3,316.97 205.7,316.93 224.1,316.90 242.4,316.86 260.8,316.83 279.1,316.79 297.4,316.76 315.8,316.72 334.1,316.69 352.5,316.65 370.9,316.62 389.2,316.59 407.6,316.55 425.9,316.52 444.2,316.48 462.6,316.45 480.9,316.41 499.3,316.38 517.6,316.34 536.0,316.31 554.4,316.27 572.7,316.24 591.0,316.21 609.4,316.17 627.8,316.14 646.1,316.10 664.5,316.07 682.8,316.03 701.1,316.00 719.5,315.98 737.9,315.96 756.2,315.94 774.5,315.92 792.9,315.90 811.2,315.88 829.6,315.86 848.0,315.84 866.3,315.82 884.6,315.81 903.0,315.79 921.4,315.77 939.7,315.75 958.0,315.73 976.4,315.71 994.8,315.69 1013.1,315.67 1031.5,315.65 1049.8,315.63 1068.2,315.61 1086.5,315.59 1104.8,315.57 1123.2,315.55 1141.5,315.54 1159.9,315.52 1178.2,315.50 1196.6,315.48 1215.0,315.46 1233.3,315.44 1251.7,315.42 1270.0,315.40 1270.0,334.00 1251.7,334.00 1233.3,334.00 1215.0,334.00 1196.6,334.00 1178.2,334.00 1159.9,334.00 1141.5,334.00 1123.2,334.00 1104.8,334.00 1086.5,334.00 1068.2,334.00 1049.8,334.00 1031.5,334.00 1013.1,334.00 994.8,334.00 976.4,334.00 958.0,334.00 939.7,334.00 921.4,334.00 903.0,334.00 884.6,334.00 866.3,334.00 848.0,334.00 829.6,334.00 811.2,334.00 792.9,334.00 774.5,334.00 756.2,334.00 737.9,334.00 719.5,334.00 701.1,334.00 682.8,334.00 664.5,334.00 646.1,334.00 627.8,334.00 609.4,334.00 591.0,334.00 572.7,334.00 554.4,334.00 536.0,334.00 517.6,334.00 499.3,334.00 480.9,334.00 462.6,334.00 444.2,334.00 425.9,334.00 407.6,334.00 389.2,334.00 370.9,334.00 352.5,334.00 334.1,334.00 315.8,334.00 297.4,334.00 279.1,334.00 260.8,334.00 242.4,334.00 224.1,334.00 205.7,334.00 187.3,334.00 169.0,334.00" fill="url(#g3b)"/><polygon points="169.0,318.70 187.3,318.69 205.7,318.69 224.1,318.68 242.4,318.67 260.8,318.67 279.1,318.66 297.4,318.65 315.8,318.65 334.1,318.64 352.5,318.63 370.9,318.63 389.2,318.62 407.6,318.61 425.9,318.61 444.2,318.60 462.6,318.59 480.9,318.59 499.3,318.58 517.6,318.57 536.0,318.57 554.4,318.56 572.7,318.55 591.0,318.55 609.4,318.54 627.8,318.53 646.1,318.53 664.5,318.52 682.8,318.51 701.1,318.51 719.5,318.50 737.9,318.49 756.2,318.49 774.5,318.48 792.9,318.47 811.2,318.47 829.6,318.46 848.0,318.45 866.3,318.45 884.6,318.44 903.0,318.43 921.4,318.43 939.7,318.42 958.0,318.41 976.4,318.41 994.8,318.40 1013.1,318.39 1031.5,318.39 1049.8,318.38 1068.2,318.37 1086.5,318.37 1104.8,318.36 1123.2,318.35 1141.5,318.35 1159.9,318.34 1178.2,318.33 1196.6,318.33 1215.0,318.32 1233.3,318.31 1251.7,318.31 1270.0,318.30 1270.0,334.00 1251.7,334.00 1233.3,334.00 1215.0,334.00 1196.6,334.00 1178.2,334.00 1159.9,334.00 1141.5,334.00 1123.2,334.00 1104.8,334.00 1086.5,334.00 1068.2,334.00 1049.8,334.00 1031.5,334.00 1013.1,334.00 994.8,334.00 976.4,334.00 958.0,334.00 939.7,334.00 921.4,334.00 903.0,334.00 884.6,334.00 866.3,334.00 848.0,334.00 829.6,334.00 811.2,334.00 792.9,334.00 774.5,334.00 756.2,334.00 737.9,334.00 719.5,334.00 701.1,334.00 682.8,334.00 664.5,334.00 646.1,334.00 627.8,334.00 609.4,334.00 591.0,334.00 572.7,334.00 554.4,334.00 536.0,334.00 517.6,334.00 499.3,334.00 480.9,334.00 462.6,334.00 444.2,334.00 425.9,334.00 407.6,334.00 389.2,334.00 370.9,334.00 352.5,334.00 334.1,334.00 315.8,334.00 297.4,334.00 279.1,334.00 260.8,334.00 242.4,334.00 224.1,334.00 205.7,334.00 187.3,334.00 169.0,334.00" fill="url(#g4)"/><polygon points="169.0,321.90 187.3,321.87 205.7,321.84 224.1,321.81 242.4,321.78 260.8,321.74 279.1,321.71 297.4,321.68 315.8,321.65 334.1,321.62 352.5,321.59 370.9,321.56 389.2,321.53 407.6,321.50 425.9,321.46 444.2,321.43 462.6,321.40 480.9,321.37 499.3,321.34 517.6,321.31 536.0,321.28 554.4,321.25 572.7,321.22 591.0,321.18 609.4,321.15 627.8,321.12 646.1,321.09 664.5,321.06 682.8,321.03 701.1,321.00 719.5,320.95 737.9,320.91 756.2,320.86 774.5,320.82 792.9,320.77 811.2,320.73 829.6,320.68 848.0,320.64 866.3,320.59 884.6,320.55 903.0,320.50 921.4,320.46 939.7,320.41 958.0,320.37 976.4,320.32 994.8,320.28 1013.1,320.23 1031.5,320.19 1049.8,320.14 1068.2,320.10 1086.5,320.05 1104.8,320.01 1123.2,319.96 1141.5,319.92 1159.9,319.87 1178.2,319.83 1196.6,319.78 1215.0,319.74 1233.3,319.69 1251.7,319.65 1270.0,319.60 1270.0,334.00 1251.7,334.00 1233.3,334.00 1215.0,334.00 1196.6,334.00 1178.2,334.00 1159.9,334.00 1141.5,334.00 1123.2,334.00 1104.8,334.00 1086.5,334.00 1068.2,334.00 1049.8,334.00 1031.5,334.00 1013.1,334.00 994.8,334.00 976.4,334.00 958.0,334.00 939.7,334.00 921.4,334.00 903.0,334.00 884.6,334.00 866.3,334.00 848.0,334.00 829.6,334.00 811.2,334.00 792.9,334.00 774.5,334.00 756.2,334.00 737.9,334.00 719.5,334.00 701.1,334.00 682.8,334.00 664.5,334.00 646.1,334.00 627.8,334.00 609.4,334.00 591.0,334.00 572.7,334.00 554.4,334.00 536.0,334.00 517.6,334.00 499.3,334.00 480.9,334.00 462.6,334.00 444.2,334.00 425.9,334.00 407.6,334.00 389.2,334.00 370.9,334.00 352.5,334.00 334.1,334.00 315.8,334.00 297.4,334.00 279.1,334.00 260.8,334.00 242.4,334.00 224.1,334.00 205.7,334.00 187.3,334.00 169.0,334.00" fill="url(#g5)"/><polygon points="169.0,323.00 187.3,322.96 205.7,322.92 224.1,322.88 242.4,322.83 260.8,322.79 279.1,322.75 297.4,322.71 315.8,322.67 334.1,322.63 352.5,322.59 370.9,322.54 389.2,322.50 407.6,322.46 425.9,322.42 444.2,322.38 462.6,322.34 480.9,322.30 499.3,322.25 517.6,322.21 536.0,322.17 554.4,322.13 572.7,322.09 591.0,322.05 609.4,322.00 627.8,321.96 646.1,321.92 664.5,321.88 682.8,321.84 701.1,321.80 719.5,321.75 737.9,321.71 756.2,321.66 774.5,321.62 792.9,321.57 811.2,321.53 829.6,321.48 848.0,321.44 866.3,321.39 884.6,321.35 903.0,321.30 921.4,321.26 939.7,321.21 958.0,321.17 976.4,321.12 994.8,321.08 1013.1,321.03 1031.5,320.99 1049.8,320.94 1068.2,320.90 1086.5,320.85 1104.8,320.81 1123.2,320.76 1141.5,320.72 1159.9,320.67 1178.2,320.63 1196.6,320.58 1215.0,320.54 1233.3,320.49 1251.7,320.45 1270.0,320.40 1270.0,334.00 1251.7,334.00 1233.3,334.00 1215.0,334.00 1196.6,334.00 1178.2,334.00 1159.9,334.00 1141.5,334.00 1123.2,334.00 1104.8,334.00 1086.5,334.00 1068.2,334.00 1049.8,334.00 1031.5,334.00 1013.1,334.00 994.8,334.00 976.4,334.00 958.0,334.00 939.7,334.00 921.4,334.00 903.0,334.00 884.6,334.00 866.3,334.00 848.0,334.00 829.6,334.00 811.2,334.00 792.9,334.00 774.5,334.00 756.2,334.00 737.9,334.00 719.5,334.00 701.1,334.00 682.8,334.00 664.5,334.00 646.1,334.00 627.8,334.00 609.4,334.00 591.0,334.00 572.7,334.00 554.4,334.00 536.0,334.00 517.6,334.00 499.3,334.00 480.9,334.00 462.6,334.00 444.2,334.00 425.9,334.00 407.6,334.00 389.2,334.00 370.9,334.00 352.5,334.00 334.1,334.00 315.8,334.00 297.4,334.00 279.1,334.00 260.8,334.00 242.4,334.00 224.1,334.00 205.7,334.00 187.3,334.00 169.0,334.00" fill="url(#g6)"/><polygon points="169.0,326.00 187.3,326.00 205.7,325.99 224.1,325.99 242.4,325.98 260.8,325.98 279.1,325.97 297.4,325.96 315.8,325.96 334.1,325.95 352.5,325.95 370.9,325.94 389.2,325.94 407.6,325.94 425.9,325.93 444.2,325.93 462.6,325.92 480.9,325.92 499.3,325.91 517.6,325.90 536.0,325.90 554.4,325.89 572.7,325.89 591.0,325.88 609.4,325.88 627.8,325.88 646.1,325.87 664.5,325.87 682.8,325.86 701.1,325.86 719.5,325.85 737.9,325.84 756.2,325.84 774.5,325.83 792.9,325.83 811.2,325.82 829.6,325.82 848.0,325.81 866.3,325.81 884.6,325.81 903.0,325.80 921.4,325.80 939.7,325.79 958.0,325.78 976.4,325.78 994.8,325.77 1013.1,325.77 1031.5,325.76 1049.8,325.76 1068.2,325.75 1086.5,325.75 1104.8,325.75 1123.2,325.74 1141.5,325.74 1159.9,325.73 1178.2,325.72 1196.6,325.72 1215.0,325.71 1233.3,325.71 1251.7,325.70 1270.0,325.70 1270.0,334.00 1251.7,334.00 1233.3,334.00 1215.0,334.00 1196.6,334.00 1178.2,334.00 1159.9,334.00 1141.5,334.00 1123.2,334.00 1104.8,334.00 1086.5,334.00 1068.2,334.00 1049.8,334.00 1031.5,334.00 1013.1,334.00 994.8,334.00 976.4,334.00 958.0,334.00 939.7,334.00 921.4,334.00 903.0,334.00 884.6,334.00 866.3,334.00 848.0,334.00 829.6,334.00 811.2,334.00 792.9,334.00 774.5,334.00 756.2,334.00 737.9,334.00 719.5,334.00 701.1,334.00 682.8,334.00 664.5,334.00 646.1,334.00 627.8,334.00 609.4,334.00 591.0,334.00 572.7,334.00 554.4,334.00 536.0,334.00 517.6,334.00 499.3,334.00 480.9,334.00 462.6,334.00 444.2,334.00 425.9,334.00 407.6,334.00 389.2,334.00 370.9,334.00 352.5,334.00 334.1,334.00 315.8,334.00 297.4,334.00 279.1,334.00 260.8,334.00 242.4,334.00 224.1,334.00 205.7,334.00 187.3,334.00 169.0,334.00" fill="url(#g7)"/><polygon points="169.0,330.20 187.3,330.20 205.7,330.19 224.1,330.19 242.4,330.18 260.8,330.18 279.1,330.17 297.4,330.17 315.8,330.16 334.1,330.16 352.5,330.15 370.9,330.15 389.2,330.14 407.6,330.14 425.9,330.14 444.2,330.13 462.6,330.13 480.9,330.12 499.3,330.12 517.6,330.11 536.0,330.11 554.4,330.10 572.7,330.10 591.0,330.09 609.4,330.09 627.8,330.08 646.1,330.08 664.5,330.07 682.8,330.07 701.1,330.07 719.5,330.06 737.9,330.06 756.2,330.05 774.5,330.05 792.9,330.04 811.2,330.04 829.6,330.03 848.0,330.03 866.3,330.02 884.6,330.02 903.0,330.01 921.4,330.01 939.7,330.01 958.0,330.00 976.4,329.75 994.8,329.48 1013.1,329.20 1031.5,328.93 1049.8,328.79 1068.2,328.78 1086.5,328.76 1104.8,328.74 1123.2,328.73 1141.5,328.71 1159.9,328.70 1178.2,328.68 1196.6,328.66 1215.0,328.65 1233.3,328.63 1251.7,328.62 1270.0,328.60 1270.0,334.00 1251.7,334.00 1233.3,334.00 1215.0,334.00 1196.6,334.00 1178.2,334.00 1159.9,334.00 1141.5,334.00 1123.2,334.00 1104.8,334.00 1086.5,334.00 1068.2,334.00 1049.8,334.00 1031.5,334.00 1013.1,334.00 994.8,334.00 976.4,334.00 958.0,334.00 939.7,334.00 921.4,334.00 903.0,334.00 884.6,334.00 866.3,334.00 848.0,334.00 829.6,334.00 811.2,334.00 792.9,334.00 774.5,334.00 756.2,334.00 737.9,334.00 719.5,334.00 701.1,334.00 682.8,334.00 664.5,334.00 646.1,334.00 627.8,334.00 609.4,334.00 591.0,334.00 572.7,334.00 554.4,334.00 536.0,334.00 517.6,334.00 499.3,334.00 480.9,334.00 462.6,334.00 444.2,334.00 425.9,334.00 407.6,334.00 389.2,334.00 370.9,334.00 352.5,334.00 334.1,334.00 315.8,334.00 297.4,334.00 279.1,334.00 260.8,334.00 242.4,334.00 224.1,334.00 205.7,334.00 187.3,334.00 169.0,334.00" fill="url(#g8)"/><polygon points="169.0,331.00 187.3,330.99 205.7,330.99 224.1,330.98 242.4,330.97 260.8,330.97 279.1,330.96 297.4,330.95 315.8,330.95 334.1,330.94 352.5,330.93 370.9,330.93 389.2,330.92 407.6,330.91 425.9,330.91 444.2,330.90 462.6,330.89 480.9,330.89 499.3,330.88 517.6,330.87 536.0,330.87 554.4,330.86 572.7,330.85 591.0,330.85 609.4,330.84 627.8,330.83 646.1,330.83 664.5,330.82 682.8,330.81 701.1,330.81 719.5,330.80 737.9,330.79 756.2,330.79 774.5,330.78 792.9,330.77 811.2,330.77 829.6,330.76 848.0,330.75 866.3,330.75 884.6,330.74 903.0,330.73 921.4,330.73 939.7,330.72 958.0,330.71 976.4,330.71 994.8,330.70 1013.1,330.69 1031.5,330.69 1049.8,330.68 1068.2,330.67 1086.5,330.67 1104.8,330.66 1123.2,330.65 1141.5,330.65 1159.9,330.64 1178.2,330.63 1196.6,330.63 1215.0,330.62 1233.3,330.61 1251.7,330.61 1270.0,330.60 1270.0,334.00 1251.7,334.00 1233.3,334.00 1215.0,334.00 1196.6,334.00 1178.2,334.00 1159.9,334.00 1141.5,334.00 1123.2,334.00 1104.8,334.00 1086.5,334.00 1068.2,334.00 1049.8,334.00 1031.5,334.00 1013.1,334.00 994.8,334.00 976.4,334.00 958.0,334.00 939.7,334.00 921.4,334.00 903.0,334.00 884.6,334.00 866.3,334.00 848.0,334.00 829.6,334.00 811.2,334.00 792.9,334.00 774.5,334.00 756.2,334.00 737.9,334.00 719.5,334.00 701.1,334.00 682.8,334.00 664.5,334.00 646.1,334.00 627.8,334.00 609.4,334.00 591.0,334.00 572.7,334.00 554.4,334.00 536.0,334.00 517.6,334.00 499.3,334.00 480.9,334.00 462.6,334.00 444.2,334.00 425.9,334.00 407.6,334.00 389.2,334.00 370.9,334.00 352.5,334.00 334.1,334.00 315.8,334.00 297.4,334.00 279.1,334.00 260.8,334.00 242.4,334.00 224.1,334.00 205.7,334.00 187.3,334.00 169.0,334.00" fill="url(#g9)"/><polygon points="1150.0,317.60 1160.0,316.78 1170.0,315.96 1180.0,315.80 1190.0,315.80 1200.0,315.80 1210.0,315.80 1220.0,315.80 1230.0,315.80 1240.0,315.80 1250.0,315.80 1260.0,315.80 1270.0,315.80 1270.0,319.60 1260.0,319.58 1250.0,319.56 1240.0,319.54 1230.0,319.52 1220.0,319.50 1210.0,319.48 1200.0,319.46 1190.0,319.44 1180.0,319.42 1170.0,319.33 1160.0,318.96 1150.0,318.60" fill="#5c9098"/><polyline points="169.5,195.00 188.8,193.25 207.5,195.50 225.0,194.75 247.5,196.00 265.0,198.25 285.0,198.75 302.5,199.75 320.0,198.75 340.0,199.50 357.5,200.75 375.0,200.25 395.0,199.50 412.5,199.50 432.5,198.50 450.0,197.00 467.5,198.00 490.0,198.50 520.0,198.50 542.5,199.25 562.5,198.75 580.0,197.25 600.0,198.00 620.0,199.50 637.5,199.00 655.0,198.75 672.5,197.25 690.0,199.75 710.0,198.25 730.0,197.50 747.5,198.50 766.0,197.25 787.5,199.50 807.5,200.50 825.0,202.25 841.0,204.00 860.0,202.50 880.0,202.00 915.0,200.25 932.5,198.25 952.5,197.00 970.0,196.25 987.5,194.25 1007.5,194.00 1026.0,192.75 1045.0,194.50 1062.5,195.50 1082.5,196.50 1102.5,197.00 1120.0,196.75 1137.5,195.25 1155.0,194.75 1175.0,196.25 1192.5,195.50 1212.5,197.50 1227.5,197.25 1250.0,198.50 1270.0,198.25" fill="none" stroke="#e2bf3c" stroke-width="2.1" stroke-linejoin="round" stroke-linecap="round" /><rect x="169" y="334.1" width="1116" height="1.2" fill="#50565c"/><rect x="171.15" y="335" width="1.2" height="5.3" fill="#50565c"/><rect x="264.15" y="335" width="1.2" height="5.3" fill="#50565c"/><rect x="357.15" y="335" width="1.2" height="5.3" fill="#50565c"/><rect x="450.15" y="335" width="1.2" height="5.3" fill="#50565c"/><rect x="543.15" y="335" width="1.2" height="5.3" fill="#50565c"/><rect x="636.15" y="335" width="1.2" height="5.3" fill="#50565c"/><rect x="729.15" y="335" width="1.2" height="5.3" fill="#50565c"/><rect x="822.15" y="335" width="1.2" height="5.3" fill="#50565c"/><rect x="915.15" y="335" width="1.2" height="5.3" fill="#50565c"/><rect x="1008.15" y="335" width="1.2" height="5.3" fill="#50565c"/><rect x="1101.15" y="335" width="1.2" height="5.3" fill="#50565c"/><rect x="1194.15" y="335" width="1.2" height="5.3" fill="#50565c"/></svg>
<span class="t" style="left:144.8px;top:202.0px;font-size:12.3px;color:#222a30;letter-spacing:0.436px;">20k</span>
<span class="t" style="left:144.8px;top:265.0px;font-size:12.3px;color:#222a30;letter-spacing:0.436px;">10k</span>
<span class="t" style="left:158.6px;top:328.9px;font-size:12.3px;color:#222a30;">0</span>
<span class="t" style="left:156.2px;top:343.3px;font-size:12.3px;color:#222a30;letter-spacing:0.055px;">12:20</span>
<span class="t" style="left:249.2px;top:343.3px;font-size:12.3px;color:#222a30;letter-spacing:0.055px;">12:25</span>
<span class="t" style="left:342.2px;top:343.3px;font-size:12.3px;color:#222a30;letter-spacing:0.055px;">12:30</span>
<span class="t" style="left:435.2px;top:343.3px;font-size:12.3px;color:#222a30;letter-spacing:0.055px;">12:35</span>
<span class="t" style="left:528.2px;top:343.3px;font-size:12.3px;color:#222a30;letter-spacing:0.055px;">12:40</span>
<span class="t" style="left:621.2px;top:343.3px;font-size:12.3px;color:#222a30;letter-spacing:0.055px;">12:45</span>
<span class="t" style="left:714.2px;top:343.3px;font-size:12.3px;color:#222a30;letter-spacing:0.055px;">12:50</span>
<span class="t" style="left:807.2px;top:343.3px;font-size:12.3px;color:#222a30;letter-spacing:0.055px;">12:55</span>
<span class="t" style="left:900.2px;top:343.3px;font-size:12.3px;color:#222a30;letter-spacing:0.055px;">13:00</span>
<span class="t" style="left:993.2px;top:343.3px;font-size:12.3px;color:#222a30;letter-spacing:0.055px;">13:05</span>
<span class="t" style="left:1086.2px;top:343.3px;font-size:12.3px;color:#222a30;letter-spacing:0.055px;">13:10</span>
<span class="t" style="left:1179.2px;top:343.3px;font-size:12.3px;color:#222a30;letter-spacing:0.055px;">13:15</span>
<div class="b" style="left:156px;top:377px;width:14px;height:14px;background:#4b97e4;border-radius:2.5px;"></div>
<div class="b" style="left:322px;top:377px;width:14px;height:14px;background:#5845b8;border-radius:2.5px;"></div>
<div class="b" style="left:432px;top:377px;width:14px;height:14px;background:#e4bd3a;border-radius:2.5px;"></div>
<div class="b" style="left:643px;top:377px;width:14px;height:14px;background:#7ea2f2;border-radius:2.5px;"></div>
<span class="t" style="left:177.5px;top:376.5px;font-size:14.1px;color:#222a30;letter-spacing:0.387px;">action.loading.time</span>
<span class="t" style="left:343.8px;top:376.5px;font-size:14.1px;color:#222a30;letter-spacing:0.241px;">adobe.test</span>
<span class="t" style="left:453.8px;top:376.5px;font-size:14.1px;color:#222a30;letter-spacing:0.144px;">adserver.ok.response.time</span>
<span class="t" style="left:664.5px;top:376.5px;font-size:14.1px;color:#222a30;letter-spacing:0.265px;">agentil_software.collector.aborted_monitors</span>
<div class="b" style="left:1201px;top:370px;width:57px;height:25px;background:#fff;border:1px solid #c9cdd3;border-radius:5px;"></div>
<span class="t" style="left:1210.0px;top:375.2px;font-size:14.1px;color:#222a30;letter-spacing:-0.211px;">+1393</span>
<span class="t" style="left:1331.8px;top:116.7px;font-size:16.8px;color:#1c2b34;letter-spacing:0.392px;-webkit-text-stroke:0.55px #1c2b34;">Evaluation View</span>
<svg width="2560" height="1440" viewBox="0 0 2560 1440"><rect x="1387" y="207.3" width="1117" height="1" fill="#e8e9ec"/><rect x="1387" y="270.5" width="1117" height="1" fill="#e8e9ec"/><rect x="1387" y="157" width="1" height="178" fill="#eadfe7"/><rect x="1387.5" y="334.2" width="1116" height="5.4" fill="#ef7f90"/><rect x="1387.5" y="333.6" width="978" height="1.4" fill="#8e7fb4"/><polyline points="1387.5,194.30 1416.7,193.60 1494.0,192.90 1560.0,194.20 1680.0,195.40 1780.0,196.40 1860.0,196.00 1960.0,195.00 2000.0,194.60 2060.0,195.20 2145.0,195.00 2215.0,196.60 2290.0,196.60 2365.7,197.60" fill="none" stroke="#e2bf3c" stroke-width="2.2" stroke-linejoin="round" stroke-linecap="round" /><polyline points="1416.7,193.60 1445.0,192.80 1473.0,192.10 1494.0,192.90" fill="none" stroke="#cf2ed4" stroke-width="2.2" stroke-linejoin="round" stroke-linecap="round" /><rect x="1387.2" y="193" width="1.8" height="2.4" fill="#b23ab8"/><rect x="1398.10" y="339.6" width="1" height="1.6" fill="#c9ccd2"/><rect x="1472.46" y="339.6" width="1" height="1.6" fill="#c9ccd2"/><rect x="1546.82" y="339.6" width="1" height="1.6" fill="#c9ccd2"/><rect x="1621.18" y="339.6" width="1" height="1.6" fill="#c9ccd2"/><rect x="1695.54" y="339.6" width="1" height="1.6" fill="#c9ccd2"/><rect x="1769.90" y="339.6" width="1" height="1.6" fill="#c9ccd2"/><rect x="1844.26" y="339.6" width="1" height="1.6" fill="#c9ccd2"/><rect x="1918.62" y="339.6" width="1" height="1.6" fill="#c9ccd2"/><rect x="1992.98" y="339.6" width="1" height="1.6" fill="#c9ccd2"/><rect x="2067.34" y="339.6" width="1" height="1.6" fill="#c9ccd2"/><rect x="2141.70" y="339.6" width="1" height="1.6" fill="#c9ccd2"/><rect x="2216.06" y="339.6" width="1" height="1.6" fill="#c9ccd2"/><rect x="2290.42" y="339.6" width="1" height="1.6" fill="#c9ccd2"/><rect x="2364.78" y="339.6" width="1" height="1.6" fill="#c9ccd2"/><rect x="2439.14" y="339.6" width="1" height="1.6" fill="#c9ccd2"/></svg>
<span class="t" style="left:1362.3px;top:202.3px;font-size:12.3px;color:#222a30;letter-spacing:0.436px;">20k</span>
<span class="t" style="left:1362.3px;top:265.5px;font-size:12.3px;color:#222a30;letter-spacing:0.436px;">10k</span>
<span class="t" style="left:1376.2px;top:328.9px;font-size:12.3px;color:#222a30;">0</span>
<span class="t" style="left:1383.1px;top:344.1px;font-size:12.3px;color:#222a30;letter-spacing:0.055px;">13:05</span>
<span class="t" style="left:1457.5px;top:344.1px;font-size:12.3px;color:#222a30;letter-spacing:0.055px;">13:06</span>
<span class="t" style="left:1531.8px;top:344.1px;font-size:12.3px;color:#222a30;letter-spacing:0.055px;">13:07</span>
<span class="t" style="left:1606.2px;top:344.1px;font-size:12.3px;color:#222a30;letter-spacing:0.055px;">13:08</span>
<span class="t" style="left:1680.5px;top:344.1px;font-size:12.3px;color:#222a30;letter-spacing:0.055px;">13:09</span>
<span class="t" style="left:1754.9px;top:344.1px;font-size:12.3px;color:#222a30;letter-spacing:0.055px;">13:10</span>
<span class="t" style="left:1829.3px;top:344.1px;font-size:12.3px;color:#222a30;letter-spacing:0.285px;">13:11</span>
<span class="t" style="left:1903.6px;top:344.1px;font-size:12.3px;color:#222a30;letter-spacing:0.055px;">13:12</span>
<span class="t" style="left:1978.0px;top:344.1px;font-size:12.3px;color:#222a30;letter-spacing:0.055px;">13:13</span>
<span class="t" style="left:2052.3px;top:344.1px;font-size:12.3px;color:#222a30;letter-spacing:0.055px;">13:14</span>
<span class="t" style="left:2126.7px;top:344.1px;font-size:12.3px;color:#222a30;letter-spacing:0.055px;">13:15</span>
<span class="t" style="left:2201.1px;top:344.1px;font-size:12.3px;color:#222a30;letter-spacing:0.055px;">13:16</span>
<span class="t" style="left:2275.4px;top:344.1px;font-size:12.3px;color:#222a30;letter-spacing:0.055px;">13:17</span>
<span class="t" style="left:2349.8px;top:344.1px;font-size:12.3px;color:#222a30;letter-spacing:0.055px;">13:18</span>
<span class="t" style="left:2424.1px;top:344.1px;font-size:12.3px;color:#222a30;letter-spacing:0.055px;">13:19</span>
<span class="t" style="left:1395.0px;top:314.2px;font-size:14.1px;color:#e9788a;font-weight:700;letter-spacing:0.713px;">alert window (15 minutes)</span>
<div class="b" style="left:1375px;top:377px;width:14px;height:14px;background:#4b97e4;border-radius:2.5px;"></div>
<div class="b" style="left:1545px;top:377px;width:14px;height:14px;background:#5845b8;border-radius:2.5px;"></div>
<div class="b" style="left:1899px;top:377px;width:14px;height:14px;background:#e4bd3a;border-radius:2.5px;"></div>
<span class="t" style="left:1396.3px;top:376.5px;font-size:14.1px;color:#222a30;letter-spacing:0.253px;">Andrews.silly.metric</span>
<span class="t" style="left:1566.0px;top:376.5px;font-size:14.1px;color:#222a30;letter-spacing:0.242px;">application_insights.custom.timer_trigger1_av...</span>
<span class="t" style="left:1920.0px;top:376.5px;font-size:14.1px;color:#222a30;letter-spacing:0.108px;">rum.errors_by_application_and_session</span>
<div class="b" style="left:2363px;top:106px;width:102px;height:35px;background:#fff;border:1px solid #c9cdd3;border-radius:4px;"></div>
<div class="b" style="left:2396px;top:107px;width:1px;height:33px;background:#c9cdd3;"></div>
<div class="b" style="left:2430px;top:107px;width:1px;height:33px;background:#c9cdd3;"></div>
<svg style="left:2371px;top:116px" width="19" height="16" viewBox="0 0 19 16"><g transform="translate(0.300 0.000) scale(1.00000 1.00000) translate(0.000 0.000)"><path d="M8.3 0 V15 L0 7.5 Z M16.6 0 V15 L8.3 7.5 Z" fill="#676d74"/></g></svg>
<svg style="left:2406px;top:115px" width="17" height="18" viewBox="0 0 17 18"><g transform="translate(0.000 0.000) scale(1.00000 1.00000) translate(0.000 0.000)"><path d="M0.5 0.5 V16.5 L15.5 8.5 Z" fill="#676d74"/></g></svg>
<svg style="left:2440px;top:116px" width="18" height="16" viewBox="0 0 18 16"><g transform="translate(0.000 0.000) scale(1.00000 1.00000) translate(0.000 0.000)"><path d="M0.4 0 V15 L8.7 7.5 Z M8.7 0 V15 L17 7.5 Z" fill="#676d74"/></g></svg>
<div class="b" style="left:2475px;top:106px;width:35px;height:35px;background:#fff;border:1px solid #c9cdd3;border-radius:4px;"></div>
<svg style="left:2484px;top:115px" width="18" height="19" viewBox="0 0 18 19"><g transform="translate(0.000 0.500) scale(0.70833 0.70833) translate(-0.000 -0.000)"><path d="M9.77 1.02 L14.23 1.02 L15.16 4.32 L15.20 4.34 L18.19 2.66 L21.34 5.81 L19.66 8.80 L19.68 8.84 L22.98 9.77 L22.98 14.23 L19.68 15.16 L19.66 15.20 L21.34 18.19 L18.19 21.34 L15.20 19.66 L15.16 19.68 L14.23 22.98 L9.77 22.98 L8.84 19.68 L8.80 19.66 L5.81 21.34 L2.66 18.19 L4.34 15.20 L4.32 15.16 L1.02 14.23 L1.02 9.77 L4.32 8.84 L4.34 8.80 L2.66 5.81 L5.81 2.66 L8.80 4.34 L8.84 4.32 Z M12 8 A4 4 0 1 0 12 16 A4 4 0 1 0 12 8 Z" fill="#676d74" fill-rule="evenodd" stroke="#676d74" stroke-width="0.8" stroke-linejoin="round"/></g></svg>
<span class="t" style="left:1331.5px;top:414.5px;font-size:16px;color:#1c2b34;letter-spacing:0.575px;">Alert when <b>100</b> % out of the bounds for the last <b>15m</b></span>
<span class="t" style="left:1331.5px;top:436.7px;font-size:16px;color:#1c2b34;letter-spacing:0.513px;">Recover when <b>0</b> % out of the bounds for the last <b>15m</b></span>
<span class="t" style="left:1331.5px;top:458.9px;font-size:16px;color:#1c2b34;letter-spacing:0.576px;">Showing data for the first 3 metric_names</span>
<span class="t" style="left:2401.3px;top:414.5px;font-size:16px;color:#1c2b34;letter-spacing:0.370px;">Select a group</span>
<div class="b" style="left:82.5px;top:527.6px;width:32px;height:32px;border-radius:50%;background:#632ca6;"></div>
<span class="t" style="left:94.4px;top:536.3px;font-size:15.8px;color:#fff;font-weight:700;">1</span>
<svg style="left:130px;top:539px" width="19" height="12" viewBox="0 0 19 12"><g transform="translate(0.200 0.300) scale(1.00000 1.00000) translate(0.000 0.000)"><path d="M1 1 L8.7 9.2 L16.4 1" fill="none" stroke="#8860c0" stroke-width="2.0" stroke-linecap="round" stroke-linejoin="round"/></g></svg>
<span class="t" style="left:163.0px;top:533.2px;font-size:22.6px;color:#1c2b34;letter-spacing:0.658px;">Choose the detection method</span>
<div class="b" style="left:97.9px;top:570px;width:1.2999999999999972px;height:136px;background:#7a3f9e;"></div>
<div class="b" style="left:82.5px;top:717px;width:32px;height:32px;border-radius:50%;background:#632ca6;"></div>
<span class="t" style="left:94.4px;top:725.7px;font-size:15.8px;color:#fff;font-weight:700;">2</span>
<svg style="left:130px;top:728px" width="19" height="12" viewBox="0 0 19 12"><g transform="translate(0.200 0.700) scale(1.00000 1.00000) translate(0.000 0.000)"><path d="M1 1 L8.7 9.2 L16.4 1" fill="none" stroke="#8860c0" stroke-width="2.0" stroke-linecap="round" stroke-linejoin="round"/></g></svg>
<span class="t" style="left:163.0px;top:722.6px;font-size:22.6px;color:#1c2b34;letter-spacing:0.701px;">Define the metric</span>
<div class="b" style="left:97.9px;top:760px;width:1.2999999999999972px;height:259px;background:#7a3f9e;"></div>
<div class="b" style="left:82.5px;top:1030.5px;width:32px;height:32px;border-radius:50%;background:#632ca6;"></div>
<span class="t" style="left:94.4px;top:1039.2px;font-size:15.8px;color:#fff;font-weight:700;">3</span>
<svg style="left:130px;top:1042px" width="19" height="12" viewBox="0 0 19 12"><g transform="translate(0.200 0.200) scale(1.00000 1.00000) translate(0.000 0.000)"><path d="M1 1 L8.7 9.2 L16.4 1" fill="none" stroke="#8860c0" stroke-width="2.0" stroke-linecap="round" stroke-linejoin="round"/></g></svg>
<span class="t" style="left:163.0px;top:1036.1px;font-size:22.6px;color:#1c2b34;letter-spacing:0.517px;">Set alert conditions</span>
<div class="b" style="left:97.9px;top:1072.5px;width:1.2999999999999972px;height:281.5px;background:#7a3f9e;"></div>
<div class="b" style="left:163px;top:590px;width:939px;height:35px;background:#fff;border:1px solid #c9cdd3;border-radius:4px;"></div>
<div class="b" style="left:334px;top:591px;width:1px;height:33px;background:#c9cdd3;"></div>
<div class="b" style="left:487px;top:591px;width:1px;height:33px;background:#c9cdd3;"></div>
<div class="b" style="left:684px;top:591px;width:1px;height:33px;background:#c9cdd3;"></div>
<div class="b" style="left:839px;top:591px;width:1px;height:33px;background:#c9cdd3;"></div>
<div class="b" style="left:997.5px;top:591px;width:1.0px;height:33px;background:#c9cdd3;"></div>
<div class="b" style="left:487px;top:590px;width:198px;height:35px;background:#2b66c2;"></div>
<span class="t" style="left:204.4px;top:599.5px;font-size:16px;color:#1c2b34;letter-spacing:0.685px;">Threshold Alert</span>
<span class="t" style="left:376.0px;top:599.5px;font-size:16px;color:#1c2b34;letter-spacing:0.571px;">Change Alert</span>
<span class="t" style="left:526.0px;top:599.5px;font-size:16px;color:#fff;letter-spacing:0.656px;-webkit-text-stroke:0.3px #fff;">Anomaly Detection</span>
<span class="t" style="left:725.6px;top:599.5px;font-size:16px;color:#1c2b34;letter-spacing:0.677px;">Outliers Alert</span>
<span class="t" style="left:880.3px;top:599.5px;font-size:16px;color:#1c2b34;letter-spacing:0.454px;">Forecast Alert</span>
<span class="t" style="left:1010.6px;top:599.5px;font-size:16px;color:#1c2b34;letter-spacing:0.850px;">Watchdog</span>
<svg style="left:178px;top:598px" width="20" height="18" viewBox="0 0 20 18"><g transform="translate(0.500 0.000) scale(1.00000 1.00000) translate(0.000 0.000)"><g fill="none" stroke="#686f77" stroke-width="1.35" stroke-linejoin="miter" stroke-linecap="butt"><path d="M0.9 2.0 V15.8 H16.5"/><path d="M1.4 14.2 C5.2 12 6.6 0.9 9.9 0.9 C13 0.9 13.4 10.2 16.2 12" stroke-linecap="round"/><path d="M3.8 6.3 H17.4" stroke-dasharray="2.7 2.6" stroke-width="1.3"/></g></g></svg>
<svg style="left:349px;top:598px" width="20" height="18" viewBox="0 0 20 18"><g transform="translate(0.500 0.000) scale(1.00000 1.00000) translate(0.000 0.000)"><g fill="none" stroke="#686f77" stroke-width="1.35" stroke-linejoin="miter" stroke-linecap="butt"><path d="M0.9 2.0 V15.8 H16.5"/><path d="M1.3 9.6 C5 9 6.4 3.5 9 3.5 C11.6 3.5 12.6 7.6 16.2 8.6" stroke-linecap="round"/><path d="M2 12.2 C6 11.6 7 8.5 9 8.5 C11.4 8.5 13 11.6 16.2 12.4" stroke-dasharray="2.3 1.5" stroke-width="1.3"/></g></g></svg>
<svg style="left:501px;top:599px" width="18" height="17" viewBox="0 0 18 17"><g transform="translate(0.000 0.500) scale(1.00000 1.00000) translate(0.000 0.000)"><g fill="#f2f7ff" opacity=".8"><rect x="0.00" y="0.30" width="0.75" height="0.75"/><rect x="1.25" y="0.30" width="0.75" height="0.75"/><rect x="2.50" y="0.30" width="0.75" height="0.75"/><rect x="3.75" y="0.30" width="0.75" height="0.75"/><rect x="5.00" y="0.30" width="0.75" height="0.75"/><rect x="0.55" y="1.42" width="0.75" height="0.75"/><rect x="1.80" y="1.42" width="0.75" height="0.75"/><rect x="3.05" y="1.42" width="0.75" height="0.75"/><rect x="4.30" y="1.42" width="0.75" height="0.75"/><rect x="5.55" y="1.42" width="0.75" height="0.75"/><rect x="0.00" y="2.54" width="0.75" height="0.75"/><rect x="1.25" y="2.54" width="0.75" height="0.75"/><rect x="2.50" y="2.54" width="0.75" height="0.75"/><rect x="3.75" y="2.54" width="0.75" height="0.75"/><rect x="5.00" y="2.54" width="0.75" height="0.75"/><rect x="0.55" y="3.66" width="0.75" height="0.75"/><rect x="1.80" y="3.66" width="0.75" height="0.75"/><rect x="3.05" y="3.66" width="0.75" height="0.75"/><rect x="4.30" y="3.66" width="0.75" height="0.75"/><rect x="5.55" y="3.66" width="0.75" height="0.75"/><rect x="0.00" y="4.78" width="0.75" height="0.75"/><rect x="1.25" y="4.78" width="0.75" height="0.75"/><rect x="2.50" y="4.78" width="0.75" height="0.75"/><rect x="3.75" y="4.78" width="0.75" height="0.75"/><rect x="5.00" y="4.78" width="0.75" height="0.75"/><rect x="0.55" y="5.90" width="0.75" height="0.75"/><rect x="1.80" y="5.90" width="0.75" height="0.75"/><rect x="3.05" y="5.90" width="0.75" height="0.75"/><rect x="4.30" y="5.90" width="0.75" height="0.75"/><rect x="5.55" y="5.90" width="0.75" height="0.75"/><rect x="0.00" y="7.02" width="0.75" height="0.75"/><rect x="1.25" y="7.02" width="0.75" height="0.75"/><rect x="2.50" y="7.02" width="0.75" height="0.75"/><rect x="3.75" y="7.02" width="0.75" height="0.75"/><rect x="5.00" y="7.02" width="0.75" height="0.75"/><rect x="0.55" y="8.14" width="0.75" height="0.75"/><rect x="1.80" y="8.14" width="0.75" height="0.75"/><rect x="3.05" y="8.14" width="0.75" height="0.75"/><rect x="4.30" y="8.14" width="0.75" height="0.75"/><rect x="5.55" y="8.14" width="0.75" height="0.75"/><rect x="9.80" y="0.30" width="0.75" height="0.75"/><rect x="11.05" y="0.30" width="0.75" height="0.75"/><rect x="12.30" y="0.30" width="0.75" height="0.75"/><rect x="13.55" y="0.30" width="0.75" height="0.75"/><rect x="14.80" y="0.30" width="0.75" height="0.75"/><rect x="16.05" y="0.30" width="0.75" height="0.75"/><rect x="10.35" y="1.42" width="0.75" height="0.75"/><rect x="11.60" y="1.42" width="0.75" height="0.75"/><rect x="12.85" y="1.42" width="0.75" height="0.75"/><rect x="14.10" y="1.42" width="0.75" height="0.75"/><rect x="15.35" y="1.42" width="0.75" height="0.75"/><rect x="9.80" y="2.54" width="0.75" height="0.75"/><rect x="11.05" y="2.54" width="0.75" height="0.75"/><rect x="12.30" y="2.54" width="0.75" height="0.75"/><rect x="13.55" y="2.54" width="0.75" height="0.75"/><rect x="14.80" y="2.54" width="0.75" height="0.75"/><rect x="16.05" y="2.54" width="0.75" height="0.75"/><rect x="10.35" y="3.66" width="0.75" height="0.75"/><rect x="11.60" y="3.66" width="0.75" height="0.75"/><rect x="12.85" y="3.66" width="0.75" height="0.75"/><rect x="14.10" y="3.66" width="0.75" height="0.75"/><rect x="15.35" y="3.66" width="0.75" height="0.75"/><rect x="9.80" y="4.78" width="0.75" height="0.75"/><rect x="11.05" y="4.78" width="0.75" height="0.75"/><rect x="12.30" y="4.78" width="0.75" height="0.75"/><rect x="13.55" y="4.78" width="0.75" height="0.75"/><rect x="14.80" y="4.78" width="0.75" height="0.75"/><rect x="16.05" y="4.78" width="0.75" height="0.75"/><rect x="10.35" y="5.90" width="0.75" height="0.75"/><rect x="11.60" y="5.90" width="0.75" height="0.75"/><rect x="12.85" y="5.90" width="0.75" height="0.75"/><rect x="14.10" y="5.90" width="0.75" height="0.75"/><rect x="15.35" y="5.90" width="0.75" height="0.75"/><rect x="9.80" y="7.02" width="0.75" height="0.75"/><rect x="11.05" y="7.02" width="0.75" height="0.75"/><rect x="12.30" y="7.02" width="0.75" height="0.75"/><rect x="13.55" y="7.02" width="0.75" height="0.75"/><rect x="14.80" y="7.02" width="0.75" height="0.75"/><rect x="16.05" y="7.02" width="0.75" height="0.75"/><rect x="10.35" y="8.14" width="0.75" height="0.75"/><rect x="11.60" y="8.14" width="0.75" height="0.75"/><rect x="12.85" y="8.14" width="0.75" height="0.75"/><rect x="14.10" y="8.14" width="0.75" height="0.75"/><rect x="15.35" y="8.14" width="0.75" height="0.75"/></g><path d="M0.4 14 L3.3 11.9 L5.4 14 L8.2 4.5 L11.5 14.4 L13.6 11.9 L16.5 14" fill="none" stroke="#f2f7ff" stroke-width="1.3" stroke-linejoin="round" stroke-linecap="round"/></g></svg>
<svg style="left:698px;top:598px" width="20" height="19" viewBox="0 0 20 19"><g transform="translate(0.500 0.500) scale(1.00000 1.00000) translate(0.000 0.000)"><rect x="0.45" y="0.30" width="2.9" height="2.9" fill="#686c72"/><rect x="7.15" y="0.30" width="2.9" height="2.9" fill="#686c72"/><rect x="13.75" y="0.30" width="2.9" height="2.9" fill="#686c72"/><rect x="0.45" y="7.15" width="2.9" height="2.9" fill="#686c72"/><rect x="7.15" y="7.15" width="2.9" height="2.9" fill="#686c72"/><rect x="12.75" y="6.15" width="4.9" height="4.9" fill="#686c72"/><rect x="0.45" y="13.85" width="2.9" height="2.9" fill="#686c72"/><rect x="7.15" y="13.85" width="2.9" height="2.9" fill="#686c72"/><rect x="13.75" y="13.85" width="2.9" height="2.9" fill="#686c72"/></g></svg>
<svg style="left:852px;top:597px" width="22" height="22" viewBox="0 0 22 22"><g transform="translate(0.000 0.000) scale(1.00000 1.00000) translate(0.000 0.000)"><path d="M2.8 17.3 L10.2 9.8" fill="none" stroke="#686c72" stroke-width="1.7"/><path d="M10.2 9.8 L17.4 2.9" fill="none" stroke="#686c72" stroke-width="1.4" stroke-dasharray="1.6 1.6"/><rect x="0.2" y="14.7" width="5.3" height="5.3" fill="#686c72"/><rect x="7.7" y="7.4" width="5" height="5" fill="#686c72"/><rect x="15.6" y="1.1" width="3.7" height="3.7" fill="#fff" stroke="#686c72" stroke-width="1.2"/></g></svg>
<span class="t" style="left:163.0px;top:648.5px;font-size:16px;color:#1c2b34;letter-spacing:0.597px;">An alert is triggered whenever a metric deviates from an expected pattern.</span>
<div class="b" style="left:412px;top:664px;width:314px;height:2px;opacity:.85;background:repeating-linear-gradient(90deg,#4d5760 0,#4d5760 2px,transparent 2px,transparent 4px);"></div>
<span class="t" style="left:183.3px;top:794.7px;font-size:16px;color:#6b7380;letter-spacing:0.079px;">Source</span>
<span class="t" style="left:275.6px;top:794.7px;font-size:16px;color:#1c2b34;letter-spacing:0.191px;">Edit</span>
<div class="b" style="left:162.5px;top:824px;width:2377.5px;height:1px;background:#e5e6e9;"></div>
<div class="b" style="left:274px;top:819.2px;width:32px;height:4.7999999999999545px;background:#2b66c2;"></div>
<div class="b" style="left:163px;top:845px;width:35px;height:34.60000000000002px;background:#2b66c2;border-radius:5px 0 0 5px;"></div>
<span class="t" style="left:177.6px;top:854.6px;font-size:16px;color:#fff;-webkit-text-stroke:0.45px #fff;">a</span>
<div class="b" style="left:198px;top:845px;width:419px;height:34.60000000000002px;background:#fcfcca;border:1px solid #cfd1bd;border-left:none;border-right:none;"></div>
<span class="t" style="left:209.6px;top:854.6px;font-size:16px;color:#1c2b34;letter-spacing:0.595px;">datadog.estimated_usage.metrics.custom.by_metric</span>
<div class="b" style="left:617px;top:845px;width:53.5px;height:34.60000000000002px;background:#e0e4ec;border:1px solid #c9cdd6;"></div>
<span class="t" style="left:626.0px;top:854.6px;font-size:16px;color:#6b7380;letter-spacing:1.333px;">from</span>
<div class="b" style="left:670px;top:845px;width:186.5px;height:34.60000000000002px;background:#fff;border:1px solid #c9cdd6;border-left:none;"></div>
<span class="t" style="left:678.8px;top:854.6px;font-size:16px;color:#9aa0a8;letter-spacing:0.445px;">(everywhere)</span>
<div class="b" style="left:856px;top:845px;width:76.5px;height:34.60000000000002px;background:#fff;border:1px solid #c9cdd6;border-left:none;"></div>
<span class="t" style="left:867.0px;top:854.6px;font-size:16px;color:#1c2b34;letter-spacing:0.784px;">sum by</span>
<div class="b" style="left:932px;top:845px;width:162px;height:34.60000000000002px;background:#fff;border:1px solid #c9cdd6;border-left:none;"></div>
<div class="b" style="left:936.5px;top:846px;width:133.5px;height:32.60000000000002px;background:#fbe4f1;"></div>
<span class="t" style="left:942.0px;top:854.6px;font-size:16px;color:#1c2b34;letter-spacing:0.652px;">metric_name</span>
<svg style="left:1052px;top:857px" width="12" height="12" viewBox="0 0 12 12"><g transform="translate(0.000 0.000) scale(1.00000 1.00000) translate(0.000 0.000)"><path d="M0.7 0.7 L10.3 10.3 M10.3 0.7 L0.7 10.3" stroke="#676d74" stroke-width="1.3" fill="none" stroke-linecap="round"/></g></svg>
<div class="b" style="left:1094px;top:861.3px;width:9px;height:2.5px;background:#dfe3ea;"></div>
<div class="b" style="left:670px;top:845px;width:1px;height:34.60000000000002px;background:#c9cdd6;"></div>
<div class="b" style="left:856px;top:845px;width:1px;height:34.60000000000002px;background:#c9cdd6;"></div>
<div class="b" style="left:932px;top:845px;width:1px;height:34.60000000000002px;background:#c9cdd6;"></div>
<div class="b" style="left:1103px;top:845px;width:106.5px;height:34.60000000000002px;background:#fff;border:1px solid #c9cdd3;border-radius:4px;"></div>
<span class="t" style="left:1144.0px;top:854.6px;font-size:16px;color:#1c2b34;letter-spacing:1.115px;">Modify</span>
<svg style="left:1119px;top:855px" width="14" height="18" viewBox="0 0 14 18"><g transform="translate(0.300 0.600) scale(1.00000 1.00000) translate(0.000 0.000)"><path d="M11 3 V0.8 H1 L6.6 7.9 L1 15 H11 V12.8" fill="none" stroke="#4e5760" stroke-width="1.3" stroke-linejoin="miter"/></g></svg>
<svg style="left:2512px;top:855px" width="23" height="17" viewBox="0 0 23 17"><g transform="translate(0.500 0.500) scale(1.00000 1.00000) translate(0.000 0.000)"><g fill="none" stroke="#555b61" stroke-width="1.5" stroke-linecap="round" stroke-linejoin="round"><path d="M5.5 3.5 L1 7.5 L5.5 11.5"/><path d="M15.5 3.5 L20 7.5 L15.5 11.5"/><path d="M12.2 0.8 L8.8 14.2"/></g></g></svg>
<div class="b" style="left:163px;top:890.3px;width:136.60000000000002px;height:34.5px;background:#fff;border:1px solid #c9cdd3;border-radius:5px;"></div>
<svg style="left:178px;top:899px" width="18" height="19" viewBox="0 0 18 19"><g transform="translate(0.500 0.800) scale(1.00000 1.00000) translate(0.000 0.000)"><path d="M8.25 0 V16.5 M0 8.25 H16.5" stroke="#676e76" stroke-width="3" fill="none"/></g></svg>
<span class="t" style="left:205.0px;top:900.7px;font-size:16px;color:#1c2b34;letter-spacing:0.564px;">Add Query</span>
<div class="b" style="left:310.3px;top:890.3px;width:152.5px;height:34.5px;background:#fff;border:1px solid #c9cdd3;border-radius:5px;"></div>
<svg style="left:324px;top:899px" width="19" height="19" viewBox="0 0 19 19"><g transform="translate(0.600 0.800) scale(1.00000 1.00000) translate(0.000 0.000)"><path d="M8.25 0 V16.5 M0 8.25 H16.5" stroke="#676e76" stroke-width="3" fill="none"/></g></svg>
<span class="t" style="left:351.5px;top:900.7px;font-size:16px;color:#1c2b34;letter-spacing:0.566px;">Add Formula</span>
<span class="t" style="left:163.0px;top:956.0px;font-size:16px;color:#1c2b34;letter-spacing:0.563px;">Evaluate the bounds for the last</span>
<div class="b" style="left:416px;top:945.3px;width:137px;height:34.40000000000009px;background:#fff;border:1px solid #c9cdd3;border-radius:4px;"></div>
<span class="t" style="left:428.0px;top:954.9px;font-size:16px;color:#1c2b34;letter-spacing:0.570px;">15 minutes</span>
<svg style="left:531px;top:960px" width="12" height="8" viewBox="0 0 12 8"><g transform="translate(0.000 0.300) scale(1.00000 1.00000) translate(0.000 0.000)"><path d="M0.2 0 H10.8 L5.5 5.9 Z" fill="#697078"/></g></svg>
<span class="t" style="left:163.0px;top:1102.9px;font-size:16px;color:#1c2b34;letter-spacing:0.519px;">Trigger when the evaluated values have been</span>
<div class="b" style="left:519px;top:1093px;width:178px;height:34.5px;background:#fff;border:1px solid #c9cdd3;border-radius:4px;"></div>
<span class="t" style="left:530.0px;top:1102.9px;font-size:16px;color:#1c2b34;letter-spacing:0.576px;">above or below</span>
<svg style="left:675px;top:1107px" width="13" height="8" viewBox="0 0 13 8"><g transform="translate(0.300 0.800) scale(1.00000 1.00000) translate(0.000 0.000)"><path d="M0.2 0 H10.8 L5.5 5.9 Z" fill="#697078"/></g></svg>
<span class="t" style="left:707.0px;top:1102.9px;font-size:16px;color:#1c2b34;letter-spacing:0.757px;">the bounds</span>
<svg style="left:802px;top:1101px" width="19" height="19" viewBox="0 0 19 19"><g transform="translate(0.200 0.500) scale(0.87000 0.87000) translate(-0.000 -0.000)"><circle cx="10" cy="10" r="10" fill="#2a62c0"/><path d="M6.9 7.7 C6.9 5.6 8.3 4.5 10.1 4.5 C12 4.5 13.3 5.6 13.3 7.3 C13.3 9.6 10.6 9.7 10.6 12" fill="none" stroke="#fff" stroke-width="2.3" stroke-linecap="butt"/><circle cx="10.5" cy="15" r="1.45" fill="#fff"/></g></svg>
<div class="b" style="left:163px;top:1153.4px;width:6px;height:24.59999999999991px;background:#dc3352;border-radius:3px;"></div>
<span class="t" style="left:189.0px;top:1158.1px;font-size:16px;color:#1c2b34;letter-spacing:0.726px;">Alert threshold:</span>
<span class="t" style="left:422.0px;top:1158.1px;font-size:16px;color:#1c2b34;letter-spacing:-0.688px;">&gt;=</span>
<div class="b" style="left:461px;top:1148px;width:237px;height:34.299999999999955px;background:#fff;border:1px solid #c9cdd3;border-radius:4px;"></div>
<span class="t" style="left:472.0px;top:1158.1px;font-size:16px;color:#1c2b34;letter-spacing:0.148px;">100</span>
<span class="t" style="left:718.0px;top:1158.1px;font-size:16px;color:#1c2b34;letter-spacing:0.504px;">(over 100% of the values in the last 15 minutes are outside the bounds)</span>
<div class="b" style="left:163px;top:1198.5px;width:6px;height:24.09999999999991px;background:#eba12f;border-radius:3px;"></div>
<span class="t" style="left:189.0px;top:1202.7px;font-size:16px;color:#1c2b34;letter-spacing:0.753px;">Warning threshold:</span>
<span class="t" style="left:422.0px;top:1202.7px;font-size:16px;color:#1c2b34;letter-spacing:-0.688px;">&gt;=</span>
<div class="b" style="left:461px;top:1193px;width:237px;height:34.5px;background:#fff;border:1px solid #c9cdd3;border-radius:4px;"></div>
<span class="t" style="left:472.0px;top:1202.7px;font-size:16px;color:#a0a5ac;letter-spacing:0.701px;">Optional</span>
<span class="t" style="left:718.0px;top:1202.7px;font-size:16px;color:#1c2b34;letter-spacing:-0.142px;">(0% - 100%)</span>
<span class="t" style="left:163.0px;top:1258.2px;font-size:16px;color:#1c2b34;letter-spacing:0.521px;">If data is missing to evaluate</span>
<div class="b" style="left:401px;top:1248.3px;width:230px;height:34.40000000000009px;background:#fff;border:1px solid #c9cdd3;border-radius:4px;"></div>
<span class="t" style="left:412.0px;top:1257.8px;font-size:16px;color:#1c2b34;letter-spacing:0.490px;">Show last known status</span>
<svg style="left:610px;top:1263px" width="13" height="7" viewBox="0 0 13 7"><g transform="translate(0.300 0.000) scale(1.00000 1.00000) translate(0.000 0.000)"><path d="M0.2 0 H10.8 L5.5 5.9 Z" fill="#697078"/></g></svg>
<svg style="left:180px;top:1318px" width="9" height="17" viewBox="0 0 9 17"><g transform="translate(0.000 0.500) scale(1.00000 1.00000) translate(0.000 0.000)"><path d="M1 1 L7 7.5 L1 14" fill="none" stroke="#4e5760" stroke-width="1.6" stroke-linecap="round" stroke-linejoin="round"/></g></svg>
<span class="t" style="left:201.0px;top:1317.4px;font-size:18.7px;color:#1c2b34;letter-spacing:0.528px;">Advanced options</span>
<div class="b" style="left:62px;top:1354px;width:2498px;height:1px;background:#e4e6e9;"></div>
<svg style="left:82px;top:1388px" width="21" height="21" viewBox="0 0 21 21"><g transform="translate(0.000 0.500) scale(0.97500 1.00000) translate(-0.000 -0.000)"><path d="M10 1.2 L19 17.8 H1 Z" fill="#f09a24" stroke="#f09a24" stroke-width="2" stroke-linejoin="round"/><rect x="8.9" y="6.6" width="2.2" height="6" fill="#fff"/><rect x="8.9" y="14" width="2.2" height="2.3" fill="#fff"/></g></svg>
<span class="t" style="left:112.5px;top:1387.4px;font-size:22.6px;color:#1c2b34;letter-spacing:0.391px;">Complete step 4</span>
<div class="b" style="left:2065px;top:1375px;width:189px;height:45px;background:#f6f7f8;border:1px solid #e2e5e9;border-radius:5px;"></div>
<span class="t" style="left:2084.0px;top:1388.7px;font-size:18.7px;color:#aeb2b7;letter-spacing:0.574px;">Test Notifications</span>
<div class="b" style="left:2264px;top:1375px;width:170px;height:45px;background:#fff;border:1px solid #c4c8ce;border-radius:5px;"></div>
<span class="t" style="left:2283.0px;top:1388.7px;font-size:18.7px;color:#1c2b34;letter-spacing:0.845px;">Export Monitor</span>
<div class="b" style="left:2444px;top:1375px;width:95px;height:45px;background:#bfdff2;border-radius:5px;"></div>
<span class="t" style="left:2463.8px;top:1388.7px;font-size:18.7px;color:#fff;letter-spacing:0.031px;-webkit-text-stroke:0.5px #fff;">Create</span>
</div>
</body></html>
